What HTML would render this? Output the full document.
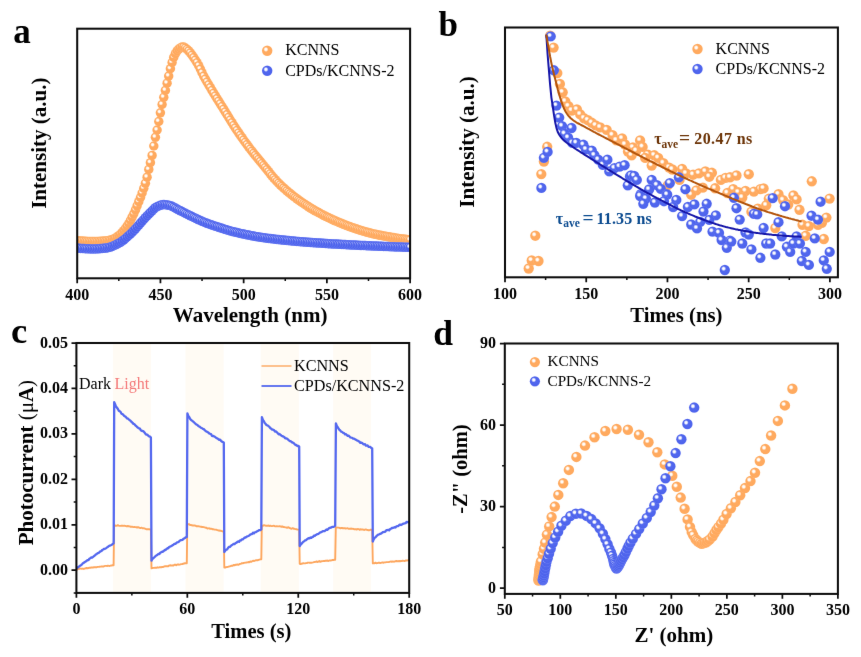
<!DOCTYPE html>
<html lang="en"><head><meta charset="utf-8"><title>Figure</title>
<style>
html,body{margin:0;padding:0;background:#fff;}
body{width:861px;height:657px;overflow:hidden;}
svg{display:block;font-family:"Liberation Serif",serif;}
.o{fill:url(#go)}.b{fill:url(#gb)}.h{fill:url(#gh)}
</style></head><body>
<svg width="861" height="657" viewBox="0 0 861 657">
<defs>
<radialGradient id="go" cx="0.5" cy="0.5" r="0.5">
<stop offset="0" stop-color="#FFAB61"/><stop offset="0.85" stop-color="#FFA95E"/><stop offset="1" stop-color="#FFB572"/>
</radialGradient>
<radialGradient id="gb" cx="0.5" cy="0.5" r="0.5">
<stop offset="0" stop-color="#546AEF"/><stop offset="0.85" stop-color="#4D63EC"/><stop offset="1" stop-color="#6B7DF2"/>
</radialGradient>
<radialGradient id="gh" cx="0.5" cy="0.5" r="0.5">
<stop offset="0" stop-color="#fff" stop-opacity="1"/><stop offset="0.4" stop-color="#fff" stop-opacity="0.95"/><stop offset="1" stop-color="#fff" stop-opacity="0"/>
</radialGradient>
<filter id="bl" filterUnits="userSpaceOnUse" x="0" y="0" width="861" height="657" color-interpolation-filters="sRGB"><feConvolveMatrix order="3" kernelMatrix="0.0028 0.0470 0.0028 0.0470 0.8008 0.0470 0.0028 0.0470 0.0028" edgeMode="duplicate" preserveAlpha="true"/></filter>
</defs>
<rect width="861" height="657" fill="#fff"/>
<g filter="url(#bl)">
<rect x="-5" y="-5" width="871" height="667" fill="#fff"/>
<clipPath id="ca"><rect x="77.2" y="28.7" width="332.90000000000003" height="249.60000000000002"/></clipPath><g clip-path="url(#ca)">
<g>
<circle class="o" cx="77.2" cy="240.7" r="4.77"/><circle class="h" cx="76.1" cy="239.4" r="2.39"/><circle class="o" cx="78.9" cy="240.9" r="4.77"/><circle class="h" cx="77.7" cy="239.6" r="2.39"/><circle class="o" cx="80.5" cy="241.0" r="4.77"/><circle class="h" cx="79.4" cy="239.7" r="2.39"/><circle class="o" cx="82.2" cy="241.1" r="4.77"/><circle class="h" cx="81.0" cy="239.8" r="2.39"/><circle class="o" cx="83.9" cy="241.2" r="4.77"/><circle class="h" cx="82.7" cy="239.9" r="2.39"/><circle class="o" cx="85.5" cy="241.3" r="4.77"/><circle class="h" cx="84.4" cy="240.0" r="2.39"/><circle class="o" cx="87.2" cy="241.4" r="4.77"/><circle class="h" cx="86.0" cy="240.1" r="2.39"/><circle class="o" cx="88.9" cy="241.4" r="4.77"/><circle class="h" cx="87.7" cy="240.1" r="2.39"/><circle class="o" cx="90.5" cy="241.5" r="4.77"/><circle class="h" cx="89.4" cy="240.2" r="2.39"/><circle class="o" cx="92.2" cy="241.5" r="4.77"/><circle class="h" cx="91.0" cy="240.2" r="2.39"/><circle class="o" cx="93.8" cy="241.5" r="4.77"/><circle class="h" cx="92.7" cy="240.2" r="2.39"/><circle class="o" cx="95.5" cy="241.5" r="4.77"/><circle class="h" cx="94.4" cy="240.2" r="2.39"/><circle class="o" cx="97.2" cy="241.5" r="4.77"/><circle class="h" cx="96.0" cy="240.2" r="2.39"/><circle class="o" cx="98.8" cy="241.4" r="4.77"/><circle class="h" cx="97.7" cy="240.1" r="2.39"/><circle class="o" cx="100.5" cy="241.3" r="4.77"/><circle class="h" cx="99.4" cy="240.0" r="2.39"/><circle class="o" cx="102.2" cy="241.2" r="4.77"/><circle class="h" cx="101.0" cy="239.9" r="2.39"/><circle class="o" cx="103.8" cy="241.1" r="4.77"/><circle class="h" cx="102.7" cy="239.8" r="2.39"/><circle class="o" cx="105.5" cy="241.0" r="4.77"/><circle class="h" cx="104.4" cy="239.7" r="2.39"/><circle class="o" cx="107.2" cy="240.8" r="4.77"/><circle class="h" cx="106.0" cy="239.5" r="2.39"/><circle class="o" cx="108.8" cy="240.5" r="4.77"/><circle class="h" cx="107.7" cy="239.2" r="2.39"/><circle class="o" cx="110.5" cy="240.1" r="4.77"/><circle class="h" cx="109.3" cy="238.8" r="2.39"/><circle class="o" cx="112.2" cy="239.6" r="4.77"/><circle class="h" cx="111.0" cy="238.3" r="2.39"/><circle class="o" cx="113.8" cy="239.0" r="4.77"/><circle class="h" cx="112.7" cy="237.7" r="2.39"/><circle class="o" cx="115.5" cy="238.1" r="4.77"/><circle class="h" cx="114.3" cy="236.8" r="2.39"/><circle class="o" cx="117.1" cy="237.0" r="4.77"/><circle class="h" cx="116.0" cy="235.7" r="2.39"/><circle class="o" cx="118.8" cy="235.7" r="4.77"/><circle class="h" cx="117.7" cy="234.5" r="2.39"/><circle class="o" cx="120.5" cy="234.3" r="4.77"/><circle class="h" cx="119.3" cy="233.0" r="2.39"/><circle class="o" cx="122.1" cy="232.6" r="4.77"/><circle class="h" cx="121.0" cy="231.4" r="2.39"/><circle class="o" cx="123.8" cy="230.7" r="4.77"/><circle class="h" cx="122.7" cy="229.4" r="2.39"/><circle class="o" cx="125.5" cy="228.6" r="4.77"/><circle class="h" cx="124.3" cy="227.3" r="2.39"/><circle class="o" cx="127.1" cy="226.2" r="4.77"/><circle class="h" cx="126.0" cy="224.9" r="2.39"/><circle class="o" cx="128.8" cy="223.5" r="4.77"/><circle class="h" cx="127.7" cy="222.2" r="2.39"/><circle class="o" cx="130.5" cy="220.4" r="4.77"/><circle class="h" cx="129.3" cy="219.2" r="2.39"/><circle class="o" cx="132.1" cy="217.2" r="4.77"/><circle class="h" cx="131.0" cy="215.9" r="2.39"/><circle class="o" cx="133.8" cy="213.8" r="4.77"/><circle class="h" cx="132.6" cy="212.5" r="2.39"/><circle class="o" cx="135.5" cy="209.9" r="4.77"/><circle class="h" cx="134.3" cy="208.6" r="2.39"/><circle class="o" cx="137.1" cy="205.8" r="4.77"/><circle class="h" cx="136.0" cy="204.5" r="2.39"/><circle class="o" cx="138.8" cy="201.7" r="4.77"/><circle class="h" cx="137.6" cy="200.4" r="2.39"/><circle class="o" cx="140.5" cy="197.5" r="4.77"/><circle class="h" cx="139.3" cy="196.2" r="2.39"/><circle class="o" cx="142.1" cy="193.0" r="4.77"/><circle class="h" cx="141.0" cy="191.7" r="2.39"/><circle class="o" cx="143.8" cy="188.3" r="4.77"/><circle class="h" cx="142.6" cy="187.0" r="2.39"/><circle class="o" cx="145.4" cy="183.3" r="4.77"/><circle class="h" cx="144.3" cy="182.0" r="2.39"/><circle class="o" cx="147.1" cy="177.2" r="4.77"/><circle class="h" cx="146.0" cy="175.9" r="2.39"/><circle class="o" cx="148.8" cy="169.4" r="4.77"/><circle class="h" cx="147.6" cy="168.2" r="2.39"/><circle class="o" cx="150.4" cy="162.7" r="4.77"/><circle class="h" cx="149.3" cy="161.4" r="2.39"/><circle class="o" cx="152.1" cy="155.4" r="4.77"/><circle class="h" cx="151.0" cy="154.1" r="2.39"/><circle class="o" cx="153.8" cy="146.0" r="4.77"/><circle class="h" cx="152.6" cy="144.7" r="2.39"/><circle class="o" cx="155.4" cy="137.3" r="4.77"/><circle class="h" cx="154.3" cy="136.0" r="2.39"/><circle class="o" cx="157.1" cy="130.0" r="4.77"/><circle class="h" cx="156.0" cy="128.8" r="2.39"/><circle class="o" cx="158.8" cy="121.5" r="4.77"/><circle class="h" cx="157.6" cy="120.2" r="2.39"/><circle class="o" cx="160.4" cy="112.8" r="4.77"/><circle class="h" cx="159.3" cy="111.5" r="2.39"/><circle class="o" cx="162.1" cy="104.5" r="4.77"/><circle class="h" cx="160.9" cy="103.2" r="2.39"/><circle class="o" cx="163.8" cy="97.3" r="4.77"/><circle class="h" cx="162.6" cy="96.0" r="2.39"/><circle class="o" cx="165.4" cy="90.4" r="4.77"/><circle class="h" cx="164.3" cy="89.1" r="2.39"/><circle class="o" cx="167.1" cy="83.2" r="4.77"/><circle class="h" cx="165.9" cy="81.9" r="2.39"/><circle class="o" cx="168.7" cy="76.1" r="4.77"/><circle class="h" cx="167.6" cy="74.8" r="2.39"/><circle class="o" cx="170.4" cy="68.7" r="4.77"/><circle class="h" cx="169.3" cy="67.5" r="2.39"/><circle class="o" cx="172.1" cy="62.5" r="4.77"/><circle class="h" cx="170.9" cy="61.2" r="2.39"/><circle class="o" cx="173.7" cy="57.4" r="4.77"/><circle class="h" cx="172.6" cy="56.1" r="2.39"/><circle class="o" cx="175.4" cy="53.7" r="4.77"/><circle class="h" cx="174.3" cy="52.4" r="2.39"/><circle class="o" cx="177.1" cy="50.9" r="4.77"/><circle class="h" cx="175.9" cy="49.6" r="2.39"/><circle class="o" cx="178.7" cy="49.2" r="4.77"/><circle class="h" cx="177.6" cy="47.9" r="2.39"/><circle class="o" cx="180.4" cy="47.9" r="4.77"/><circle class="h" cx="179.3" cy="46.6" r="2.39"/><circle class="o" cx="182.1" cy="47.1" r="4.77"/><circle class="h" cx="180.9" cy="45.8" r="2.39"/><circle class="o" cx="183.7" cy="47.1" r="4.77"/><circle class="h" cx="182.6" cy="45.8" r="2.39"/><circle class="o" cx="185.4" cy="48.0" r="4.77"/><circle class="h" cx="184.2" cy="46.7" r="2.39"/><circle class="o" cx="187.1" cy="49.4" r="4.77"/><circle class="h" cx="185.9" cy="48.1" r="2.39"/><circle class="o" cx="188.7" cy="50.9" r="4.77"/><circle class="h" cx="187.6" cy="49.6" r="2.39"/><circle class="o" cx="190.4" cy="52.9" r="4.77"/><circle class="h" cx="189.2" cy="51.6" r="2.39"/><circle class="o" cx="192.1" cy="55.2" r="4.77"/><circle class="h" cx="190.9" cy="53.9" r="2.39"/><circle class="o" cx="193.7" cy="57.6" r="4.77"/><circle class="h" cx="192.6" cy="56.3" r="2.39"/><circle class="o" cx="195.4" cy="60.0" r="4.77"/><circle class="h" cx="194.2" cy="58.8" r="2.39"/><circle class="o" cx="197.0" cy="62.7" r="4.77"/><circle class="h" cx="195.9" cy="61.4" r="2.39"/><circle class="o" cx="198.7" cy="65.7" r="4.77"/><circle class="h" cx="197.6" cy="64.4" r="2.39"/><circle class="o" cx="200.4" cy="69.1" r="4.77"/><circle class="h" cx="199.2" cy="67.8" r="2.39"/><circle class="o" cx="202.0" cy="72.7" r="4.77"/><circle class="h" cx="200.9" cy="71.4" r="2.39"/><circle class="o" cx="203.7" cy="76.1" r="4.77"/><circle class="h" cx="202.6" cy="74.8" r="2.39"/><circle class="o" cx="205.4" cy="79.1" r="4.77"/><circle class="h" cx="204.2" cy="77.8" r="2.39"/><circle class="o" cx="207.0" cy="82.0" r="4.77"/><circle class="h" cx="205.9" cy="80.7" r="2.39"/><circle class="o" cx="208.7" cy="84.8" r="4.77"/><circle class="h" cx="207.6" cy="83.5" r="2.39"/><circle class="o" cx="210.4" cy="87.6" r="4.77"/><circle class="h" cx="209.2" cy="86.3" r="2.39"/><circle class="o" cx="212.0" cy="90.4" r="4.77"/><circle class="h" cx="210.9" cy="89.1" r="2.39"/><circle class="o" cx="213.7" cy="93.2" r="4.77"/><circle class="h" cx="212.5" cy="91.9" r="2.39"/><circle class="o" cx="215.4" cy="95.9" r="4.77"/><circle class="h" cx="214.2" cy="94.6" r="2.39"/><circle class="o" cx="217.0" cy="98.6" r="4.77"/><circle class="h" cx="215.9" cy="97.3" r="2.39"/><circle class="o" cx="218.7" cy="101.2" r="4.77"/><circle class="h" cx="217.5" cy="99.9" r="2.39"/><circle class="o" cx="220.3" cy="103.8" r="4.77"/><circle class="h" cx="219.2" cy="102.5" r="2.39"/><circle class="o" cx="222.0" cy="106.5" r="4.77"/><circle class="h" cx="220.9" cy="105.2" r="2.39"/><circle class="o" cx="223.7" cy="109.2" r="4.77"/><circle class="h" cx="222.5" cy="107.9" r="2.39"/><circle class="o" cx="225.3" cy="111.9" r="4.77"/><circle class="h" cx="224.2" cy="110.6" r="2.39"/><circle class="o" cx="227.0" cy="114.6" r="4.77"/><circle class="h" cx="225.9" cy="113.3" r="2.39"/><circle class="o" cx="228.7" cy="117.3" r="4.77"/><circle class="h" cx="227.5" cy="116.0" r="2.39"/><circle class="o" cx="230.3" cy="120.0" r="4.77"/><circle class="h" cx="229.2" cy="118.7" r="2.39"/><circle class="o" cx="232.0" cy="122.7" r="4.77"/><circle class="h" cx="230.9" cy="121.4" r="2.39"/><circle class="o" cx="233.7" cy="125.4" r="4.77"/><circle class="h" cx="232.5" cy="124.1" r="2.39"/><circle class="o" cx="235.3" cy="127.9" r="4.77"/><circle class="h" cx="234.2" cy="126.6" r="2.39"/><circle class="o" cx="237.0" cy="130.4" r="4.77"/><circle class="h" cx="235.8" cy="129.1" r="2.39"/><circle class="o" cx="238.7" cy="132.9" r="4.77"/><circle class="h" cx="237.5" cy="131.6" r="2.39"/><circle class="o" cx="240.3" cy="135.3" r="4.77"/><circle class="h" cx="239.2" cy="134.0" r="2.39"/><circle class="o" cx="242.0" cy="137.7" r="4.77"/><circle class="h" cx="240.8" cy="136.4" r="2.39"/><circle class="o" cx="243.6" cy="140.0" r="4.77"/><circle class="h" cx="242.5" cy="138.7" r="2.39"/><circle class="o" cx="245.3" cy="142.3" r="4.77"/><circle class="h" cx="244.2" cy="141.0" r="2.39"/><circle class="o" cx="247.0" cy="144.6" r="4.77"/><circle class="h" cx="245.8" cy="143.3" r="2.39"/><circle class="o" cx="248.6" cy="146.8" r="4.77"/><circle class="h" cx="247.5" cy="145.5" r="2.39"/><circle class="o" cx="250.3" cy="149.0" r="4.77"/><circle class="h" cx="249.2" cy="147.7" r="2.39"/><circle class="o" cx="252.0" cy="151.2" r="4.77"/><circle class="h" cx="250.8" cy="149.9" r="2.39"/><circle class="o" cx="253.6" cy="153.3" r="4.77"/><circle class="h" cx="252.5" cy="152.0" r="2.39"/><circle class="o" cx="255.3" cy="155.4" r="4.77"/><circle class="h" cx="254.2" cy="154.1" r="2.39"/><circle class="o" cx="257.0" cy="157.4" r="4.77"/><circle class="h" cx="255.8" cy="156.1" r="2.39"/><circle class="o" cx="258.6" cy="159.4" r="4.77"/><circle class="h" cx="257.5" cy="158.1" r="2.39"/><circle class="o" cx="260.3" cy="161.4" r="4.77"/><circle class="h" cx="259.2" cy="160.2" r="2.39"/><circle class="o" cx="262.0" cy="163.5" r="4.77"/><circle class="h" cx="260.8" cy="162.2" r="2.39"/><circle class="o" cx="263.6" cy="165.5" r="4.77"/><circle class="h" cx="262.5" cy="164.2" r="2.39"/><circle class="o" cx="265.3" cy="167.6" r="4.77"/><circle class="h" cx="264.1" cy="166.3" r="2.39"/><circle class="o" cx="267.0" cy="169.6" r="4.77"/><circle class="h" cx="265.8" cy="168.3" r="2.39"/><circle class="o" cx="268.6" cy="171.7" r="4.77"/><circle class="h" cx="267.5" cy="170.4" r="2.39"/><circle class="o" cx="270.3" cy="173.8" r="4.77"/><circle class="h" cx="269.1" cy="172.5" r="2.39"/><circle class="o" cx="271.9" cy="175.8" r="4.77"/><circle class="h" cx="270.8" cy="174.5" r="2.39"/><circle class="o" cx="273.6" cy="177.8" r="4.77"/><circle class="h" cx="272.5" cy="176.5" r="2.39"/><circle class="o" cx="275.3" cy="179.7" r="4.77"/><circle class="h" cx="274.1" cy="178.4" r="2.39"/><circle class="o" cx="276.9" cy="181.5" r="4.77"/><circle class="h" cx="275.8" cy="180.2" r="2.39"/><circle class="o" cx="278.6" cy="183.2" r="4.77"/><circle class="h" cx="277.5" cy="181.9" r="2.39"/><circle class="o" cx="280.3" cy="184.8" r="4.77"/><circle class="h" cx="279.1" cy="183.5" r="2.39"/><circle class="o" cx="281.9" cy="186.4" r="4.77"/><circle class="h" cx="280.8" cy="185.1" r="2.39"/><circle class="o" cx="283.6" cy="187.9" r="4.77"/><circle class="h" cx="282.5" cy="186.7" r="2.39"/><circle class="o" cx="285.3" cy="189.4" r="4.77"/><circle class="h" cx="284.1" cy="188.1" r="2.39"/><circle class="o" cx="286.9" cy="190.9" r="4.77"/><circle class="h" cx="285.8" cy="189.6" r="2.39"/><circle class="o" cx="288.6" cy="192.3" r="4.77"/><circle class="h" cx="287.4" cy="191.0" r="2.39"/><circle class="o" cx="290.3" cy="193.6" r="4.77"/><circle class="h" cx="289.1" cy="192.4" r="2.39"/><circle class="o" cx="291.9" cy="195.0" r="4.77"/><circle class="h" cx="290.8" cy="193.7" r="2.39"/><circle class="o" cx="293.6" cy="196.3" r="4.77"/><circle class="h" cx="292.4" cy="195.0" r="2.39"/><circle class="o" cx="295.2" cy="197.5" r="4.77"/><circle class="h" cx="294.1" cy="196.3" r="2.39"/><circle class="o" cx="296.9" cy="198.8" r="4.77"/><circle class="h" cx="295.8" cy="197.5" r="2.39"/><circle class="o" cx="298.6" cy="200.0" r="4.77"/><circle class="h" cx="297.4" cy="198.7" r="2.39"/><circle class="o" cx="300.2" cy="201.2" r="4.77"/><circle class="h" cx="299.1" cy="199.9" r="2.39"/><circle class="o" cx="301.9" cy="202.4" r="4.77"/><circle class="h" cx="300.8" cy="201.1" r="2.39"/><circle class="o" cx="303.6" cy="203.5" r="4.77"/><circle class="h" cx="302.4" cy="202.2" r="2.39"/><circle class="o" cx="305.2" cy="204.6" r="4.77"/><circle class="h" cx="304.1" cy="203.3" r="2.39"/><circle class="o" cx="306.9" cy="205.7" r="4.77"/><circle class="h" cx="305.8" cy="204.4" r="2.39"/><circle class="o" cx="308.6" cy="206.8" r="4.77"/><circle class="h" cx="307.4" cy="205.5" r="2.39"/><circle class="o" cx="310.2" cy="207.8" r="4.77"/><circle class="h" cx="309.1" cy="206.5" r="2.39"/><circle class="o" cx="311.9" cy="208.8" r="4.77"/><circle class="h" cx="310.7" cy="207.5" r="2.39"/><circle class="o" cx="313.6" cy="209.8" r="4.77"/><circle class="h" cx="312.4" cy="208.5" r="2.39"/><circle class="o" cx="315.2" cy="210.8" r="4.77"/><circle class="h" cx="314.1" cy="209.5" r="2.39"/><circle class="o" cx="316.9" cy="211.7" r="4.77"/><circle class="h" cx="315.7" cy="210.4" r="2.39"/><circle class="o" cx="318.6" cy="212.6" r="4.77"/><circle class="h" cx="317.4" cy="211.3" r="2.39"/><circle class="o" cx="320.2" cy="213.5" r="4.77"/><circle class="h" cx="319.1" cy="212.2" r="2.39"/><circle class="o" cx="321.9" cy="214.4" r="4.77"/><circle class="h" cx="320.7" cy="213.1" r="2.39"/><circle class="o" cx="323.5" cy="215.3" r="4.77"/><circle class="h" cx="322.4" cy="214.0" r="2.39"/><circle class="o" cx="325.2" cy="216.1" r="4.77"/><circle class="h" cx="324.1" cy="214.8" r="2.39"/><circle class="o" cx="326.9" cy="216.9" r="4.77"/><circle class="h" cx="325.7" cy="215.7" r="2.39"/><circle class="o" cx="328.5" cy="217.7" r="4.77"/><circle class="h" cx="327.4" cy="216.5" r="2.39"/><circle class="o" cx="330.2" cy="218.5" r="4.77"/><circle class="h" cx="329.1" cy="217.2" r="2.39"/><circle class="o" cx="331.9" cy="219.3" r="4.77"/><circle class="h" cx="330.7" cy="218.0" r="2.39"/><circle class="o" cx="333.5" cy="220.1" r="4.77"/><circle class="h" cx="332.4" cy="218.8" r="2.39"/><circle class="o" cx="335.2" cy="220.8" r="4.77"/><circle class="h" cx="334.1" cy="219.5" r="2.39"/><circle class="o" cx="336.9" cy="221.5" r="4.77"/><circle class="h" cx="335.7" cy="220.2" r="2.39"/><circle class="o" cx="338.5" cy="222.2" r="4.77"/><circle class="h" cx="337.4" cy="221.0" r="2.39"/><circle class="o" cx="340.2" cy="222.9" r="4.77"/><circle class="h" cx="339.0" cy="221.7" r="2.39"/><circle class="o" cx="341.9" cy="223.6" r="4.77"/><circle class="h" cx="340.7" cy="222.3" r="2.39"/><circle class="o" cx="343.5" cy="224.3" r="4.77"/><circle class="h" cx="342.4" cy="223.0" r="2.39"/><circle class="o" cx="345.2" cy="225.0" r="4.77"/><circle class="h" cx="344.0" cy="223.7" r="2.39"/><circle class="o" cx="346.8" cy="225.6" r="4.77"/><circle class="h" cx="345.7" cy="224.3" r="2.39"/><circle class="o" cx="348.5" cy="226.2" r="4.77"/><circle class="h" cx="347.4" cy="224.9" r="2.39"/><circle class="o" cx="350.2" cy="226.8" r="4.77"/><circle class="h" cx="349.0" cy="225.6" r="2.39"/><circle class="o" cx="351.8" cy="227.4" r="4.77"/><circle class="h" cx="350.7" cy="226.1" r="2.39"/><circle class="o" cx="353.5" cy="228.0" r="4.77"/><circle class="h" cx="352.4" cy="226.7" r="2.39"/><circle class="o" cx="355.2" cy="228.6" r="4.77"/><circle class="h" cx="354.0" cy="227.3" r="2.39"/><circle class="o" cx="356.8" cy="229.1" r="4.77"/><circle class="h" cx="355.7" cy="227.8" r="2.39"/><circle class="o" cx="358.5" cy="229.7" r="4.77"/><circle class="h" cx="357.4" cy="228.4" r="2.39"/><circle class="o" cx="360.2" cy="230.2" r="4.77"/><circle class="h" cx="359.0" cy="228.9" r="2.39"/><circle class="o" cx="361.8" cy="230.7" r="4.77"/><circle class="h" cx="360.7" cy="229.4" r="2.39"/><circle class="o" cx="363.5" cy="231.2" r="4.77"/><circle class="h" cx="362.3" cy="229.9" r="2.39"/><circle class="o" cx="365.2" cy="231.7" r="4.77"/><circle class="h" cx="364.0" cy="230.4" r="2.39"/><circle class="o" cx="366.8" cy="232.2" r="4.77"/><circle class="h" cx="365.7" cy="230.9" r="2.39"/><circle class="o" cx="368.5" cy="232.6" r="4.77"/><circle class="h" cx="367.3" cy="231.4" r="2.39"/><circle class="o" cx="370.2" cy="233.1" r="4.77"/><circle class="h" cx="369.0" cy="231.8" r="2.39"/><circle class="o" cx="371.8" cy="233.5" r="4.77"/><circle class="h" cx="370.7" cy="232.2" r="2.39"/><circle class="o" cx="373.5" cy="233.9" r="4.77"/><circle class="h" cx="372.3" cy="232.6" r="2.39"/><circle class="o" cx="375.1" cy="234.2" r="4.77"/><circle class="h" cx="374.0" cy="233.0" r="2.39"/><circle class="o" cx="376.8" cy="234.6" r="4.77"/><circle class="h" cx="375.7" cy="233.3" r="2.39"/><circle class="o" cx="378.5" cy="235.0" r="4.77"/><circle class="h" cx="377.3" cy="233.7" r="2.39"/><circle class="o" cx="380.1" cy="235.3" r="4.77"/><circle class="h" cx="379.0" cy="234.0" r="2.39"/><circle class="o" cx="381.8" cy="235.6" r="4.77"/><circle class="h" cx="380.7" cy="234.3" r="2.39"/><circle class="o" cx="383.5" cy="235.9" r="4.77"/><circle class="h" cx="382.3" cy="234.6" r="2.39"/><circle class="o" cx="385.1" cy="236.2" r="4.77"/><circle class="h" cx="384.0" cy="235.0" r="2.39"/><circle class="o" cx="386.8" cy="236.5" r="4.77"/><circle class="h" cx="385.7" cy="235.2" r="2.39"/><circle class="o" cx="388.5" cy="236.8" r="4.77"/><circle class="h" cx="387.3" cy="235.5" r="2.39"/><circle class="o" cx="390.1" cy="237.1" r="4.77"/><circle class="h" cx="389.0" cy="235.8" r="2.39"/><circle class="o" cx="391.8" cy="237.4" r="4.77"/><circle class="h" cx="390.6" cy="236.1" r="2.39"/><circle class="o" cx="393.5" cy="237.6" r="4.77"/><circle class="h" cx="392.3" cy="236.4" r="2.39"/><circle class="o" cx="395.1" cy="237.9" r="4.77"/><circle class="h" cx="394.0" cy="236.6" r="2.39"/><circle class="o" cx="396.8" cy="238.2" r="4.77"/><circle class="h" cx="395.6" cy="236.9" r="2.39"/><circle class="o" cx="398.4" cy="238.4" r="4.77"/><circle class="h" cx="397.3" cy="237.1" r="2.39"/><circle class="o" cx="400.1" cy="238.7" r="4.77"/><circle class="h" cx="399.0" cy="237.4" r="2.39"/><circle class="o" cx="401.8" cy="238.9" r="4.77"/><circle class="h" cx="400.6" cy="237.6" r="2.39"/><circle class="o" cx="403.4" cy="239.1" r="4.77"/><circle class="h" cx="402.3" cy="237.8" r="2.39"/><circle class="o" cx="405.1" cy="239.3" r="4.77"/><circle class="h" cx="404.0" cy="238.1" r="2.39"/><circle class="o" cx="406.8" cy="239.6" r="4.77"/><circle class="h" cx="405.6" cy="238.3" r="2.39"/><circle class="o" cx="408.4" cy="239.8" r="4.77"/><circle class="h" cx="407.3" cy="238.5" r="2.39"/><circle class="o" cx="410.1" cy="240.0" r="4.77"/><circle class="h" cx="409.0" cy="238.7" r="2.39"/>
</g>
<g>
<circle class="b" cx="77.2" cy="248.0" r="4.77"/><circle class="h" cx="76.1" cy="246.7" r="2.39"/><circle class="b" cx="78.9" cy="248.2" r="4.77"/><circle class="h" cx="77.7" cy="246.9" r="2.39"/><circle class="b" cx="80.5" cy="248.4" r="4.77"/><circle class="h" cx="79.4" cy="247.1" r="2.39"/><circle class="b" cx="82.2" cy="248.5" r="4.77"/><circle class="h" cx="81.0" cy="247.2" r="2.39"/><circle class="b" cx="83.9" cy="248.6" r="4.77"/><circle class="h" cx="82.7" cy="247.3" r="2.39"/><circle class="b" cx="85.5" cy="248.7" r="4.77"/><circle class="h" cx="84.4" cy="247.4" r="2.39"/><circle class="b" cx="87.2" cy="248.8" r="4.77"/><circle class="h" cx="86.0" cy="247.5" r="2.39"/><circle class="b" cx="88.9" cy="248.8" r="4.77"/><circle class="h" cx="87.7" cy="247.5" r="2.39"/><circle class="b" cx="90.5" cy="248.9" r="4.77"/><circle class="h" cx="89.4" cy="247.6" r="2.39"/><circle class="b" cx="92.2" cy="248.9" r="4.77"/><circle class="h" cx="91.0" cy="247.6" r="2.39"/><circle class="b" cx="93.8" cy="248.9" r="4.77"/><circle class="h" cx="92.7" cy="247.6" r="2.39"/><circle class="b" cx="95.5" cy="248.9" r="4.77"/><circle class="h" cx="94.4" cy="247.6" r="2.39"/><circle class="b" cx="97.2" cy="248.8" r="4.77"/><circle class="h" cx="96.0" cy="247.6" r="2.39"/><circle class="b" cx="98.8" cy="248.8" r="4.77"/><circle class="h" cx="97.7" cy="247.5" r="2.39"/><circle class="b" cx="100.5" cy="248.6" r="4.77"/><circle class="h" cx="99.4" cy="247.3" r="2.39"/><circle class="b" cx="102.2" cy="248.5" r="4.77"/><circle class="h" cx="101.0" cy="247.2" r="2.39"/><circle class="b" cx="103.8" cy="248.3" r="4.77"/><circle class="h" cx="102.7" cy="247.0" r="2.39"/><circle class="b" cx="105.5" cy="248.1" r="4.77"/><circle class="h" cx="104.4" cy="246.8" r="2.39"/><circle class="b" cx="107.2" cy="247.9" r="4.77"/><circle class="h" cx="106.0" cy="246.6" r="2.39"/><circle class="b" cx="108.8" cy="247.5" r="4.77"/><circle class="h" cx="107.7" cy="246.3" r="2.39"/><circle class="b" cx="110.5" cy="247.1" r="4.77"/><circle class="h" cx="109.3" cy="245.8" r="2.39"/><circle class="b" cx="112.2" cy="246.4" r="4.77"/><circle class="h" cx="111.0" cy="245.1" r="2.39"/><circle class="b" cx="113.8" cy="245.7" r="4.77"/><circle class="h" cx="112.7" cy="244.4" r="2.39"/><circle class="b" cx="115.5" cy="244.9" r="4.77"/><circle class="h" cx="114.3" cy="243.6" r="2.39"/><circle class="b" cx="117.1" cy="244.1" r="4.77"/><circle class="h" cx="116.0" cy="242.8" r="2.39"/><circle class="b" cx="118.8" cy="243.2" r="4.77"/><circle class="h" cx="117.7" cy="242.0" r="2.39"/><circle class="b" cx="120.5" cy="242.3" r="4.77"/><circle class="h" cx="119.3" cy="241.0" r="2.39"/><circle class="b" cx="122.1" cy="241.1" r="4.77"/><circle class="h" cx="121.0" cy="239.9" r="2.39"/><circle class="b" cx="123.8" cy="239.9" r="4.77"/><circle class="h" cx="122.7" cy="238.6" r="2.39"/><circle class="b" cx="125.5" cy="238.5" r="4.77"/><circle class="h" cx="124.3" cy="237.2" r="2.39"/><circle class="b" cx="127.1" cy="237.0" r="4.77"/><circle class="h" cx="126.0" cy="235.8" r="2.39"/><circle class="b" cx="128.8" cy="235.5" r="4.77"/><circle class="h" cx="127.7" cy="234.2" r="2.39"/><circle class="b" cx="130.5" cy="234.0" r="4.77"/><circle class="h" cx="129.3" cy="232.7" r="2.39"/><circle class="b" cx="132.1" cy="232.4" r="4.77"/><circle class="h" cx="131.0" cy="231.1" r="2.39"/><circle class="b" cx="133.8" cy="230.7" r="4.77"/><circle class="h" cx="132.6" cy="229.4" r="2.39"/><circle class="b" cx="135.5" cy="228.9" r="4.77"/><circle class="h" cx="134.3" cy="227.6" r="2.39"/><circle class="b" cx="137.1" cy="227.0" r="4.77"/><circle class="h" cx="136.0" cy="225.7" r="2.39"/><circle class="b" cx="138.8" cy="225.1" r="4.77"/><circle class="h" cx="137.6" cy="223.8" r="2.39"/><circle class="b" cx="140.5" cy="223.1" r="4.77"/><circle class="h" cx="139.3" cy="221.9" r="2.39"/><circle class="b" cx="142.1" cy="221.3" r="4.77"/><circle class="h" cx="141.0" cy="220.0" r="2.39"/><circle class="b" cx="143.8" cy="219.5" r="4.77"/><circle class="h" cx="142.6" cy="218.2" r="2.39"/><circle class="b" cx="145.4" cy="217.7" r="4.77"/><circle class="h" cx="144.3" cy="216.4" r="2.39"/><circle class="b" cx="147.1" cy="215.9" r="4.77"/><circle class="h" cx="146.0" cy="214.6" r="2.39"/><circle class="b" cx="148.8" cy="214.2" r="4.77"/><circle class="h" cx="147.6" cy="212.9" r="2.39"/><circle class="b" cx="150.4" cy="212.6" r="4.77"/><circle class="h" cx="149.3" cy="211.3" r="2.39"/><circle class="b" cx="152.1" cy="210.8" r="4.77"/><circle class="h" cx="151.0" cy="209.6" r="2.39"/><circle class="b" cx="153.8" cy="209.1" r="4.77"/><circle class="h" cx="152.6" cy="207.9" r="2.39"/><circle class="b" cx="155.4" cy="207.7" r="4.77"/><circle class="h" cx="154.3" cy="206.4" r="2.39"/><circle class="b" cx="157.1" cy="206.7" r="4.77"/><circle class="h" cx="156.0" cy="205.4" r="2.39"/><circle class="b" cx="158.8" cy="205.9" r="4.77"/><circle class="h" cx="157.6" cy="204.6" r="2.39"/><circle class="b" cx="160.4" cy="205.3" r="4.77"/><circle class="h" cx="159.3" cy="204.0" r="2.39"/><circle class="b" cx="162.1" cy="204.8" r="4.77"/><circle class="h" cx="160.9" cy="203.5" r="2.39"/><circle class="b" cx="163.8" cy="204.6" r="4.77"/><circle class="h" cx="162.6" cy="203.3" r="2.39"/><circle class="b" cx="165.4" cy="204.7" r="4.77"/><circle class="h" cx="164.3" cy="203.4" r="2.39"/><circle class="b" cx="167.1" cy="204.9" r="4.77"/><circle class="h" cx="165.9" cy="203.7" r="2.39"/><circle class="b" cx="168.7" cy="205.3" r="4.77"/><circle class="h" cx="167.6" cy="204.0" r="2.39"/><circle class="b" cx="170.4" cy="205.7" r="4.77"/><circle class="h" cx="169.3" cy="204.4" r="2.39"/><circle class="b" cx="172.1" cy="206.3" r="4.77"/><circle class="h" cx="170.9" cy="205.1" r="2.39"/><circle class="b" cx="173.7" cy="207.2" r="4.77"/><circle class="h" cx="172.6" cy="205.9" r="2.39"/><circle class="b" cx="175.4" cy="208.1" r="4.77"/><circle class="h" cx="174.3" cy="206.8" r="2.39"/><circle class="b" cx="177.1" cy="209.1" r="4.77"/><circle class="h" cx="175.9" cy="207.8" r="2.39"/><circle class="b" cx="178.7" cy="209.9" r="4.77"/><circle class="h" cx="177.6" cy="208.6" r="2.39"/><circle class="b" cx="180.4" cy="210.8" r="4.77"/><circle class="h" cx="179.3" cy="209.5" r="2.39"/><circle class="b" cx="182.1" cy="211.6" r="4.77"/><circle class="h" cx="180.9" cy="210.3" r="2.39"/><circle class="b" cx="183.7" cy="212.5" r="4.77"/><circle class="h" cx="182.6" cy="211.2" r="2.39"/><circle class="b" cx="185.4" cy="213.3" r="4.77"/><circle class="h" cx="184.2" cy="212.0" r="2.39"/><circle class="b" cx="187.1" cy="214.2" r="4.77"/><circle class="h" cx="185.9" cy="212.9" r="2.39"/><circle class="b" cx="188.7" cy="215.0" r="4.77"/><circle class="h" cx="187.6" cy="213.7" r="2.39"/><circle class="b" cx="190.4" cy="215.8" r="4.77"/><circle class="h" cx="189.2" cy="214.5" r="2.39"/><circle class="b" cx="192.1" cy="216.6" r="4.77"/><circle class="h" cx="190.9" cy="215.3" r="2.39"/><circle class="b" cx="193.7" cy="217.4" r="4.77"/><circle class="h" cx="192.6" cy="216.1" r="2.39"/><circle class="b" cx="195.4" cy="218.2" r="4.77"/><circle class="h" cx="194.2" cy="216.9" r="2.39"/><circle class="b" cx="197.0" cy="219.0" r="4.77"/><circle class="h" cx="195.9" cy="217.7" r="2.39"/><circle class="b" cx="198.7" cy="219.8" r="4.77"/><circle class="h" cx="197.6" cy="218.5" r="2.39"/><circle class="b" cx="200.4" cy="220.5" r="4.77"/><circle class="h" cx="199.2" cy="219.3" r="2.39"/><circle class="b" cx="202.0" cy="221.3" r="4.77"/><circle class="h" cx="200.9" cy="220.0" r="2.39"/><circle class="b" cx="203.7" cy="222.0" r="4.77"/><circle class="h" cx="202.6" cy="220.7" r="2.39"/><circle class="b" cx="205.4" cy="222.7" r="4.77"/><circle class="h" cx="204.2" cy="221.4" r="2.39"/><circle class="b" cx="207.0" cy="223.3" r="4.77"/><circle class="h" cx="205.9" cy="222.0" r="2.39"/><circle class="b" cx="208.7" cy="223.9" r="4.77"/><circle class="h" cx="207.6" cy="222.6" r="2.39"/><circle class="b" cx="210.4" cy="224.5" r="4.77"/><circle class="h" cx="209.2" cy="223.2" r="2.39"/><circle class="b" cx="212.0" cy="225.1" r="4.77"/><circle class="h" cx="210.9" cy="223.8" r="2.39"/><circle class="b" cx="213.7" cy="225.7" r="4.77"/><circle class="h" cx="212.5" cy="224.4" r="2.39"/><circle class="b" cx="215.4" cy="226.2" r="4.77"/><circle class="h" cx="214.2" cy="224.9" r="2.39"/><circle class="b" cx="217.0" cy="226.7" r="4.77"/><circle class="h" cx="215.9" cy="225.5" r="2.39"/><circle class="b" cx="218.7" cy="227.3" r="4.77"/><circle class="h" cx="217.5" cy="226.0" r="2.39"/><circle class="b" cx="220.3" cy="227.8" r="4.77"/><circle class="h" cx="219.2" cy="226.5" r="2.39"/><circle class="b" cx="222.0" cy="228.3" r="4.77"/><circle class="h" cx="220.9" cy="227.1" r="2.39"/><circle class="b" cx="223.7" cy="228.9" r="4.77"/><circle class="h" cx="222.5" cy="227.6" r="2.39"/><circle class="b" cx="225.3" cy="229.4" r="4.77"/><circle class="h" cx="224.2" cy="228.1" r="2.39"/><circle class="b" cx="227.0" cy="229.9" r="4.77"/><circle class="h" cx="225.9" cy="228.6" r="2.39"/><circle class="b" cx="228.7" cy="230.4" r="4.77"/><circle class="h" cx="227.5" cy="229.1" r="2.39"/><circle class="b" cx="230.3" cy="230.9" r="4.77"/><circle class="h" cx="229.2" cy="229.6" r="2.39"/><circle class="b" cx="232.0" cy="231.4" r="4.77"/><circle class="h" cx="230.9" cy="230.1" r="2.39"/><circle class="b" cx="233.7" cy="231.8" r="4.77"/><circle class="h" cx="232.5" cy="230.5" r="2.39"/><circle class="b" cx="235.3" cy="232.2" r="4.77"/><circle class="h" cx="234.2" cy="230.9" r="2.39"/><circle class="b" cx="237.0" cy="232.6" r="4.77"/><circle class="h" cx="235.8" cy="231.3" r="2.39"/><circle class="b" cx="238.7" cy="233.0" r="4.77"/><circle class="h" cx="237.5" cy="231.7" r="2.39"/><circle class="b" cx="240.3" cy="233.4" r="4.77"/><circle class="h" cx="239.2" cy="232.1" r="2.39"/><circle class="b" cx="242.0" cy="233.7" r="4.77"/><circle class="h" cx="240.8" cy="232.5" r="2.39"/><circle class="b" cx="243.6" cy="234.1" r="4.77"/><circle class="h" cx="242.5" cy="232.8" r="2.39"/><circle class="b" cx="245.3" cy="234.4" r="4.77"/><circle class="h" cx="244.2" cy="233.2" r="2.39"/><circle class="b" cx="247.0" cy="234.8" r="4.77"/><circle class="h" cx="245.8" cy="233.5" r="2.39"/><circle class="b" cx="248.6" cy="235.1" r="4.77"/><circle class="h" cx="247.5" cy="233.8" r="2.39"/><circle class="b" cx="250.3" cy="235.4" r="4.77"/><circle class="h" cx="249.2" cy="234.1" r="2.39"/><circle class="b" cx="252.0" cy="235.8" r="4.77"/><circle class="h" cx="250.8" cy="234.5" r="2.39"/><circle class="b" cx="253.6" cy="236.1" r="4.77"/><circle class="h" cx="252.5" cy="234.8" r="2.39"/><circle class="b" cx="255.3" cy="236.4" r="4.77"/><circle class="h" cx="254.2" cy="235.1" r="2.39"/><circle class="b" cx="257.0" cy="236.7" r="4.77"/><circle class="h" cx="255.8" cy="235.4" r="2.39"/><circle class="b" cx="258.6" cy="237.0" r="4.77"/><circle class="h" cx="257.5" cy="235.7" r="2.39"/><circle class="b" cx="260.3" cy="237.2" r="4.77"/><circle class="h" cx="259.2" cy="235.9" r="2.39"/><circle class="b" cx="262.0" cy="237.5" r="4.77"/><circle class="h" cx="260.8" cy="236.2" r="2.39"/><circle class="b" cx="263.6" cy="237.7" r="4.77"/><circle class="h" cx="262.5" cy="236.4" r="2.39"/><circle class="b" cx="265.3" cy="237.9" r="4.77"/><circle class="h" cx="264.1" cy="236.6" r="2.39"/><circle class="b" cx="267.0" cy="238.2" r="4.77"/><circle class="h" cx="265.8" cy="236.9" r="2.39"/><circle class="b" cx="268.6" cy="238.4" r="4.77"/><circle class="h" cx="267.5" cy="237.1" r="2.39"/><circle class="b" cx="270.3" cy="238.6" r="4.77"/><circle class="h" cx="269.1" cy="237.3" r="2.39"/><circle class="b" cx="271.9" cy="238.8" r="4.77"/><circle class="h" cx="270.8" cy="237.5" r="2.39"/><circle class="b" cx="273.6" cy="239.0" r="4.77"/><circle class="h" cx="272.5" cy="237.7" r="2.39"/><circle class="b" cx="275.3" cy="239.2" r="4.77"/><circle class="h" cx="274.1" cy="237.9" r="2.39"/><circle class="b" cx="276.9" cy="239.4" r="4.77"/><circle class="h" cx="275.8" cy="238.1" r="2.39"/><circle class="b" cx="278.6" cy="239.6" r="4.77"/><circle class="h" cx="277.5" cy="238.3" r="2.39"/><circle class="b" cx="280.3" cy="239.8" r="4.77"/><circle class="h" cx="279.1" cy="238.5" r="2.39"/><circle class="b" cx="281.9" cy="239.9" r="4.77"/><circle class="h" cx="280.8" cy="238.6" r="2.39"/><circle class="b" cx="283.6" cy="240.1" r="4.77"/><circle class="h" cx="282.5" cy="238.8" r="2.39"/><circle class="b" cx="285.3" cy="240.3" r="4.77"/><circle class="h" cx="284.1" cy="239.0" r="2.39"/><circle class="b" cx="286.9" cy="240.4" r="4.77"/><circle class="h" cx="285.8" cy="239.2" r="2.39"/><circle class="b" cx="288.6" cy="240.6" r="4.77"/><circle class="h" cx="287.4" cy="239.3" r="2.39"/><circle class="b" cx="290.3" cy="240.8" r="4.77"/><circle class="h" cx="289.1" cy="239.5" r="2.39"/><circle class="b" cx="291.9" cy="240.9" r="4.77"/><circle class="h" cx="290.8" cy="239.6" r="2.39"/><circle class="b" cx="293.6" cy="241.1" r="4.77"/><circle class="h" cx="292.4" cy="239.8" r="2.39"/><circle class="b" cx="295.2" cy="241.2" r="4.77"/><circle class="h" cx="294.1" cy="239.9" r="2.39"/><circle class="b" cx="296.9" cy="241.4" r="4.77"/><circle class="h" cx="295.8" cy="240.1" r="2.39"/><circle class="b" cx="298.6" cy="241.5" r="4.77"/><circle class="h" cx="297.4" cy="240.2" r="2.39"/><circle class="b" cx="300.2" cy="241.7" r="4.77"/><circle class="h" cx="299.1" cy="240.4" r="2.39"/><circle class="b" cx="301.9" cy="241.8" r="4.77"/><circle class="h" cx="300.8" cy="240.5" r="2.39"/><circle class="b" cx="303.6" cy="241.9" r="4.77"/><circle class="h" cx="302.4" cy="240.6" r="2.39"/><circle class="b" cx="305.2" cy="242.1" r="4.77"/><circle class="h" cx="304.1" cy="240.8" r="2.39"/><circle class="b" cx="306.9" cy="242.2" r="4.77"/><circle class="h" cx="305.8" cy="240.9" r="2.39"/><circle class="b" cx="308.6" cy="242.3" r="4.77"/><circle class="h" cx="307.4" cy="241.0" r="2.39"/><circle class="b" cx="310.2" cy="242.4" r="4.77"/><circle class="h" cx="309.1" cy="241.1" r="2.39"/><circle class="b" cx="311.9" cy="242.6" r="4.77"/><circle class="h" cx="310.7" cy="241.3" r="2.39"/><circle class="b" cx="313.6" cy="242.7" r="4.77"/><circle class="h" cx="312.4" cy="241.4" r="2.39"/><circle class="b" cx="315.2" cy="242.8" r="4.77"/><circle class="h" cx="314.1" cy="241.5" r="2.39"/><circle class="b" cx="316.9" cy="242.9" r="4.77"/><circle class="h" cx="315.7" cy="241.6" r="2.39"/><circle class="b" cx="318.6" cy="243.0" r="4.77"/><circle class="h" cx="317.4" cy="241.7" r="2.39"/><circle class="b" cx="320.2" cy="243.1" r="4.77"/><circle class="h" cx="319.1" cy="241.8" r="2.39"/><circle class="b" cx="321.9" cy="243.2" r="4.77"/><circle class="h" cx="320.7" cy="241.9" r="2.39"/><circle class="b" cx="323.5" cy="243.3" r="4.77"/><circle class="h" cx="322.4" cy="242.1" r="2.39"/><circle class="b" cx="325.2" cy="243.4" r="4.77"/><circle class="h" cx="324.1" cy="242.2" r="2.39"/><circle class="b" cx="326.9" cy="243.6" r="4.77"/><circle class="h" cx="325.7" cy="242.3" r="2.39"/><circle class="b" cx="328.5" cy="243.7" r="4.77"/><circle class="h" cx="327.4" cy="242.4" r="2.39"/><circle class="b" cx="330.2" cy="243.8" r="4.77"/><circle class="h" cx="329.1" cy="242.5" r="2.39"/><circle class="b" cx="331.9" cy="243.9" r="4.77"/><circle class="h" cx="330.7" cy="242.6" r="2.39"/><circle class="b" cx="333.5" cy="244.0" r="4.77"/><circle class="h" cx="332.4" cy="242.7" r="2.39"/><circle class="b" cx="335.2" cy="244.1" r="4.77"/><circle class="h" cx="334.1" cy="242.8" r="2.39"/><circle class="b" cx="336.9" cy="244.1" r="4.77"/><circle class="h" cx="335.7" cy="242.9" r="2.39"/><circle class="b" cx="338.5" cy="244.2" r="4.77"/><circle class="h" cx="337.4" cy="243.0" r="2.39"/><circle class="b" cx="340.2" cy="244.3" r="4.77"/><circle class="h" cx="339.0" cy="243.1" r="2.39"/><circle class="b" cx="341.9" cy="244.4" r="4.77"/><circle class="h" cx="340.7" cy="243.1" r="2.39"/><circle class="b" cx="343.5" cy="244.5" r="4.77"/><circle class="h" cx="342.4" cy="243.2" r="2.39"/><circle class="b" cx="345.2" cy="244.6" r="4.77"/><circle class="h" cx="344.0" cy="243.3" r="2.39"/><circle class="b" cx="346.8" cy="244.7" r="4.77"/><circle class="h" cx="345.7" cy="243.4" r="2.39"/><circle class="b" cx="348.5" cy="244.8" r="4.77"/><circle class="h" cx="347.4" cy="243.5" r="2.39"/><circle class="b" cx="350.2" cy="244.9" r="4.77"/><circle class="h" cx="349.0" cy="243.6" r="2.39"/><circle class="b" cx="351.8" cy="245.0" r="4.77"/><circle class="h" cx="350.7" cy="243.7" r="2.39"/><circle class="b" cx="353.5" cy="245.1" r="4.77"/><circle class="h" cx="352.4" cy="243.8" r="2.39"/><circle class="b" cx="355.2" cy="245.1" r="4.77"/><circle class="h" cx="354.0" cy="243.8" r="2.39"/><circle class="b" cx="356.8" cy="245.2" r="4.77"/><circle class="h" cx="355.7" cy="243.9" r="2.39"/><circle class="b" cx="358.5" cy="245.3" r="4.77"/><circle class="h" cx="357.4" cy="244.0" r="2.39"/><circle class="b" cx="360.2" cy="245.4" r="4.77"/><circle class="h" cx="359.0" cy="244.1" r="2.39"/><circle class="b" cx="361.8" cy="245.5" r="4.77"/><circle class="h" cx="360.7" cy="244.2" r="2.39"/><circle class="b" cx="363.5" cy="245.5" r="4.77"/><circle class="h" cx="362.3" cy="244.2" r="2.39"/><circle class="b" cx="365.2" cy="245.6" r="4.77"/><circle class="h" cx="364.0" cy="244.3" r="2.39"/><circle class="b" cx="366.8" cy="245.7" r="4.77"/><circle class="h" cx="365.7" cy="244.4" r="2.39"/><circle class="b" cx="368.5" cy="245.8" r="4.77"/><circle class="h" cx="367.3" cy="244.5" r="2.39"/><circle class="b" cx="370.2" cy="245.8" r="4.77"/><circle class="h" cx="369.0" cy="244.6" r="2.39"/><circle class="b" cx="371.8" cy="245.9" r="4.77"/><circle class="h" cx="370.7" cy="244.6" r="2.39"/><circle class="b" cx="373.5" cy="246.0" r="4.77"/><circle class="h" cx="372.3" cy="244.7" r="2.39"/><circle class="b" cx="375.1" cy="246.1" r="4.77"/><circle class="h" cx="374.0" cy="244.8" r="2.39"/><circle class="b" cx="376.8" cy="246.1" r="4.77"/><circle class="h" cx="375.7" cy="244.8" r="2.39"/><circle class="b" cx="378.5" cy="246.2" r="4.77"/><circle class="h" cx="377.3" cy="244.9" r="2.39"/><circle class="b" cx="380.1" cy="246.3" r="4.77"/><circle class="h" cx="379.0" cy="245.0" r="2.39"/><circle class="b" cx="381.8" cy="246.3" r="4.77"/><circle class="h" cx="380.7" cy="245.1" r="2.39"/><circle class="b" cx="383.5" cy="246.4" r="4.77"/><circle class="h" cx="382.3" cy="245.1" r="2.39"/><circle class="b" cx="385.1" cy="246.5" r="4.77"/><circle class="h" cx="384.0" cy="245.2" r="2.39"/><circle class="b" cx="386.8" cy="246.5" r="4.77"/><circle class="h" cx="385.7" cy="245.3" r="2.39"/><circle class="b" cx="388.5" cy="246.6" r="4.77"/><circle class="h" cx="387.3" cy="245.3" r="2.39"/><circle class="b" cx="390.1" cy="246.7" r="4.77"/><circle class="h" cx="389.0" cy="245.4" r="2.39"/><circle class="b" cx="391.8" cy="246.7" r="4.77"/><circle class="h" cx="390.6" cy="245.5" r="2.39"/><circle class="b" cx="393.5" cy="246.8" r="4.77"/><circle class="h" cx="392.3" cy="245.5" r="2.39"/><circle class="b" cx="395.1" cy="246.9" r="4.77"/><circle class="h" cx="394.0" cy="245.6" r="2.39"/><circle class="b" cx="396.8" cy="246.9" r="4.77"/><circle class="h" cx="395.6" cy="245.6" r="2.39"/><circle class="b" cx="398.4" cy="247.0" r="4.77"/><circle class="h" cx="397.3" cy="245.7" r="2.39"/><circle class="b" cx="400.1" cy="247.0" r="4.77"/><circle class="h" cx="399.0" cy="245.8" r="2.39"/><circle class="b" cx="401.8" cy="247.1" r="4.77"/><circle class="h" cx="400.6" cy="245.8" r="2.39"/><circle class="b" cx="403.4" cy="247.2" r="4.77"/><circle class="h" cx="402.3" cy="245.9" r="2.39"/><circle class="b" cx="405.1" cy="247.2" r="4.77"/><circle class="h" cx="404.0" cy="245.9" r="2.39"/><circle class="b" cx="406.8" cy="247.3" r="4.77"/><circle class="h" cx="405.6" cy="246.0" r="2.39"/><circle class="b" cx="408.4" cy="247.3" r="4.77"/><circle class="h" cx="407.3" cy="246.0" r="2.39"/><circle class="b" cx="410.1" cy="247.4" r="4.77"/><circle class="h" cx="409.0" cy="246.1" r="2.39"/>
</g>
</g>
<rect x="77.20" y="28.70" width="332.90" height="249.60" fill="none" stroke="#0d0d0d" stroke-width="2.05"/>
<path d="M77.20 278.30v4.9M160.43 278.30v4.9M243.65 278.30v4.9M326.88 278.30v4.9M410.10 278.30v4.9" stroke="#0d0d0d" stroke-width="1.75" fill="none"/>
<path d="M118.81 278.30v2.7M202.04 278.30v2.7M285.26 278.30v2.7M368.49 278.30v2.7" stroke="#0d0d0d" stroke-width="1.5" fill="none"/>
<text x="77.20" y="299.80" font-size="16" font-weight="bold" text-anchor="middle" fill="#000">400</text>
<text x="160.43" y="299.80" font-size="16" font-weight="bold" text-anchor="middle" fill="#000">450</text>
<text x="243.65" y="299.80" font-size="16" font-weight="bold" text-anchor="middle" fill="#000">500</text>
<text x="326.88" y="299.80" font-size="16" font-weight="bold" text-anchor="middle" fill="#000">550</text>
<text x="410.10" y="299.80" font-size="16" font-weight="bold" text-anchor="middle" fill="#000">600</text>
<text x="250.10" y="322.40" font-size="21" font-weight="bold" text-anchor="middle" fill="#000">Wavelength (nm)</text>
<text transform="translate(46.30 143.20) rotate(-90)" font-size="21" font-weight="bold" text-anchor="middle">Intensity (a.u.)</text>
<text x="13.20" y="43.30" font-size="35" font-weight="bold" text-anchor="start" fill="#000">a</text>
<g>
<circle class="o" cx="267.2" cy="50.8" r="5.25"/><circle class="h" cx="265.9" cy="49.4" r="2.62"/>
</g>
<g>
<circle class="b" cx="267.2" cy="70.8" r="5.25"/><circle class="h" cx="265.9" cy="69.4" r="2.62"/>
</g>
<text x="285.20" y="55.20" font-size="16.0" text-anchor="start" fill="#000">KCNNS</text>
<text x="285.20" y="75.50" font-size="16.0" text-anchor="start" fill="#000">CPDs/KCNNS-2</text>
<g>
<circle class="o" cx="528.7" cy="268.5" r="5.19"/><circle class="h" cx="527.5" cy="267.1" r="2.60"/><circle class="o" cx="531.7" cy="260.5" r="5.19"/><circle class="h" cx="530.5" cy="259.1" r="2.60"/><circle class="o" cx="538.5" cy="261.0" r="5.19"/><circle class="h" cx="537.3" cy="259.6" r="2.60"/><circle class="o" cx="535.3" cy="235.7" r="5.19"/><circle class="h" cx="534.1" cy="234.3" r="2.60"/><circle class="o" cx="541.3" cy="174.1" r="5.19"/><circle class="h" cx="540.1" cy="172.7" r="2.60"/><circle class="o" cx="543.9" cy="161.6" r="5.19"/><circle class="h" cx="542.7" cy="160.2" r="2.60"/><circle class="o" cx="547.2" cy="146.8" r="5.19"/><circle class="h" cx="546.0" cy="145.4" r="2.60"/><circle class="o" cx="550.2" cy="35.6" r="5.19"/><circle class="h" cx="549.0" cy="34.2" r="2.60"/><circle class="o" cx="553.6" cy="47.6" r="5.19"/><circle class="h" cx="552.4" cy="46.2" r="2.60"/><circle class="o" cx="557.3" cy="73.1" r="5.19"/><circle class="h" cx="556.1" cy="71.7" r="2.60"/><circle class="o" cx="559.9" cy="83.9" r="5.19"/><circle class="h" cx="558.7" cy="82.5" r="2.60"/><circle class="o" cx="562.7" cy="92.3" r="5.19"/><circle class="h" cx="561.5" cy="90.9" r="2.60"/><circle class="o" cx="565.3" cy="101.4" r="5.19"/><circle class="h" cx="564.1" cy="100.0" r="2.60"/><circle class="o" cx="568.5" cy="106.2" r="5.19"/><circle class="h" cx="567.3" cy="104.8" r="2.60"/><circle class="o" cx="571.8" cy="110.5" r="5.19"/><circle class="h" cx="570.6" cy="109.1" r="2.60"/><circle class="o" cx="576.9" cy="109.5" r="5.19"/><circle class="h" cx="575.7" cy="108.1" r="2.60"/><circle class="o" cx="580.2" cy="114.4" r="5.19"/><circle class="h" cx="579.0" cy="113.0" r="2.60"/><circle class="o" cx="584.1" cy="118.3" r="5.19"/><circle class="h" cx="582.9" cy="116.9" r="2.60"/><circle class="o" cx="587.9" cy="120.2" r="5.19"/><circle class="h" cx="586.7" cy="118.8" r="2.60"/><circle class="o" cx="591.8" cy="122.8" r="5.19"/><circle class="h" cx="590.6" cy="121.4" r="2.60"/><circle class="o" cx="595.7" cy="125.4" r="5.19"/><circle class="h" cx="594.5" cy="124.0" r="2.60"/><circle class="o" cx="600.2" cy="127.4" r="5.19"/><circle class="h" cx="599.0" cy="126.0" r="2.60"/><circle class="o" cx="606.7" cy="129.9" r="5.19"/><circle class="h" cx="605.5" cy="128.5" r="2.60"/><circle class="o" cx="612.5" cy="135.1" r="5.19"/><circle class="h" cx="611.3" cy="133.7" r="2.60"/><circle class="o" cx="616.4" cy="140.3" r="5.19"/><circle class="h" cx="615.2" cy="138.9" r="2.60"/><circle class="o" cx="622.1" cy="138.5" r="5.19"/><circle class="h" cx="620.9" cy="137.1" r="2.60"/><circle class="o" cx="625.0" cy="144.5" r="5.19"/><circle class="h" cx="623.8" cy="143.1" r="2.60"/><circle class="o" cx="628.0" cy="151.6" r="5.19"/><circle class="h" cx="626.8" cy="150.2" r="2.60"/><circle class="o" cx="631.6" cy="155.3" r="5.19"/><circle class="h" cx="630.4" cy="153.9" r="2.60"/><circle class="o" cx="632.9" cy="147.5" r="5.19"/><circle class="h" cx="631.7" cy="146.1" r="2.60"/><circle class="o" cx="636.2" cy="150.8" r="5.19"/><circle class="h" cx="635.0" cy="149.4" r="2.60"/><circle class="o" cx="640.1" cy="140.4" r="5.19"/><circle class="h" cx="638.9" cy="139.0" r="2.60"/><circle class="o" cx="642.6" cy="146.9" r="5.19"/><circle class="h" cx="641.4" cy="145.5" r="2.60"/><circle class="o" cx="647.8" cy="154.6" r="5.19"/><circle class="h" cx="646.6" cy="153.2" r="2.60"/><circle class="o" cx="645.2" cy="157.9" r="5.19"/><circle class="h" cx="644.0" cy="156.5" r="2.60"/><circle class="o" cx="651.7" cy="165.6" r="5.19"/><circle class="h" cx="650.5" cy="164.2" r="2.60"/><circle class="o" cx="654.3" cy="155.3" r="5.19"/><circle class="h" cx="653.1" cy="153.9" r="2.60"/><circle class="o" cx="658.2" cy="157.9" r="5.19"/><circle class="h" cx="657.0" cy="156.5" r="2.60"/><circle class="o" cx="663.4" cy="163.1" r="5.19"/><circle class="h" cx="662.2" cy="161.7" r="2.60"/><circle class="o" cx="669.2" cy="167.6" r="5.19"/><circle class="h" cx="668.0" cy="166.2" r="2.60"/><circle class="o" cx="672.4" cy="169.5" r="5.19"/><circle class="h" cx="671.2" cy="168.1" r="2.60"/><circle class="o" cx="682.1" cy="168.9" r="5.19"/><circle class="h" cx="680.9" cy="167.5" r="2.60"/><circle class="o" cx="686.0" cy="173.4" r="5.19"/><circle class="h" cx="684.8" cy="172.0" r="2.60"/><circle class="o" cx="679.5" cy="179.9" r="5.19"/><circle class="h" cx="678.3" cy="178.5" r="2.60"/><circle class="o" cx="667.9" cy="185.1" r="5.19"/><circle class="h" cx="666.7" cy="183.7" r="2.60"/><circle class="o" cx="693.1" cy="174.7" r="5.19"/><circle class="h" cx="691.9" cy="173.3" r="2.60"/><circle class="o" cx="698.9" cy="173.4" r="5.19"/><circle class="h" cx="697.7" cy="172.0" r="2.60"/><circle class="o" cx="705.4" cy="171.5" r="5.19"/><circle class="h" cx="704.2" cy="170.1" r="2.60"/><circle class="o" cx="711.9" cy="172.8" r="5.19"/><circle class="h" cx="710.7" cy="171.4" r="2.60"/><circle class="o" cx="709.3" cy="176.7" r="5.19"/><circle class="h" cx="708.1" cy="175.3" r="2.60"/><circle class="o" cx="720.9" cy="179.9" r="5.19"/><circle class="h" cx="719.7" cy="178.5" r="2.60"/><circle class="o" cx="725.5" cy="177.9" r="5.19"/><circle class="h" cx="724.3" cy="176.5" r="2.60"/><circle class="o" cx="730.0" cy="177.3" r="5.19"/><circle class="h" cx="728.8" cy="175.9" r="2.60"/><circle class="o" cx="696.4" cy="190.4" r="5.19"/><circle class="h" cx="695.2" cy="189.0" r="2.60"/><circle class="o" cx="702.8" cy="187.6" r="5.19"/><circle class="h" cx="701.6" cy="186.2" r="2.60"/><circle class="o" cx="715.1" cy="188.3" r="5.19"/><circle class="h" cx="713.9" cy="186.9" r="2.60"/><circle class="o" cx="727.4" cy="193.0" r="5.19"/><circle class="h" cx="726.2" cy="191.6" r="2.60"/><circle class="o" cx="691.2" cy="194.7" r="5.19"/><circle class="h" cx="690.0" cy="193.3" r="2.60"/><circle class="o" cx="736.5" cy="175.5" r="5.19"/><circle class="h" cx="735.3" cy="174.1" r="2.60"/><circle class="o" cx="748.8" cy="174.2" r="5.19"/><circle class="h" cx="747.6" cy="172.8" r="2.60"/><circle class="o" cx="733.2" cy="189.1" r="5.19"/><circle class="h" cx="732.0" cy="187.7" r="2.60"/><circle class="o" cx="738.4" cy="192.3" r="5.19"/><circle class="h" cx="737.2" cy="190.9" r="2.60"/><circle class="o" cx="745.5" cy="191.0" r="5.19"/><circle class="h" cx="744.3" cy="189.6" r="2.60"/><circle class="o" cx="742.3" cy="197.5" r="5.19"/><circle class="h" cx="741.1" cy="196.1" r="2.60"/><circle class="o" cx="753.9" cy="191.6" r="5.19"/><circle class="h" cx="752.7" cy="190.2" r="2.60"/><circle class="o" cx="760.4" cy="189.1" r="5.19"/><circle class="h" cx="759.2" cy="187.7" r="2.60"/><circle class="o" cx="763.6" cy="188.4" r="5.19"/><circle class="h" cx="762.4" cy="187.0" r="2.60"/><circle class="o" cx="768.8" cy="198.8" r="5.19"/><circle class="h" cx="767.6" cy="197.4" r="2.60"/><circle class="o" cx="766.2" cy="205.3" r="5.19"/><circle class="h" cx="765.0" cy="203.9" r="2.60"/><circle class="o" cx="778.5" cy="194.2" r="5.19"/><circle class="h" cx="777.3" cy="192.8" r="2.60"/><circle class="o" cx="783.1" cy="200.1" r="5.19"/><circle class="h" cx="781.9" cy="198.7" r="2.60"/><circle class="o" cx="788.2" cy="204.5" r="5.19"/><circle class="h" cx="787.0" cy="203.1" r="2.60"/><circle class="o" cx="793.4" cy="195.5" r="5.19"/><circle class="h" cx="792.2" cy="194.1" r="2.60"/><circle class="o" cx="796.6" cy="199.4" r="5.19"/><circle class="h" cx="795.4" cy="198.0" r="2.60"/><circle class="o" cx="799.5" cy="209.8" r="5.19"/><circle class="h" cx="798.3" cy="208.4" r="2.60"/><circle class="o" cx="811.8" cy="181.3" r="5.19"/><circle class="h" cx="810.6" cy="179.9" r="2.60"/><circle class="o" cx="829.6" cy="198.6" r="5.19"/><circle class="h" cx="828.4" cy="197.2" r="2.60"/><circle class="o" cx="751.4" cy="211.8" r="5.19"/><circle class="h" cx="750.2" cy="210.4" r="2.60"/><circle class="o" cx="757.8" cy="208.6" r="5.19"/><circle class="h" cx="756.6" cy="207.2" r="2.60"/><circle class="o" cx="775.3" cy="228.0" r="5.19"/><circle class="h" cx="774.1" cy="226.6" r="2.60"/><circle class="o" cx="802.5" cy="224.8" r="5.19"/><circle class="h" cx="801.3" cy="223.4" r="2.60"/><circle class="o" cx="808.9" cy="226.1" r="5.19"/><circle class="h" cx="807.7" cy="224.7" r="2.60"/><circle class="o" cx="805.7" cy="235.8" r="5.19"/><circle class="h" cx="804.5" cy="234.4" r="2.60"/><circle class="o" cx="818.0" cy="224.8" r="5.19"/><circle class="h" cx="816.8" cy="223.4" r="2.60"/><circle class="o" cx="821.9" cy="222.8" r="5.19"/><circle class="h" cx="820.7" cy="221.4" r="2.60"/><circle class="o" cx="826.4" cy="217.6" r="5.19"/><circle class="h" cx="825.2" cy="216.2" r="2.60"/><circle class="o" cx="823.8" cy="239.0" r="5.19"/><circle class="h" cx="822.6" cy="237.6" r="2.60"/>
</g>
<g>
<circle class="b" cx="541.4" cy="187.9" r="5.19"/><circle class="h" cx="540.2" cy="186.5" r="2.60"/><circle class="b" cx="543.9" cy="157.8" r="5.19"/><circle class="h" cx="542.7" cy="156.4" r="2.60"/><circle class="b" cx="547.6" cy="151.9" r="5.19"/><circle class="h" cx="546.4" cy="150.5" r="2.60"/><circle class="b" cx="550.7" cy="36.4" r="5.19"/><circle class="h" cx="549.5" cy="35.0" r="2.60"/><circle class="b" cx="553.9" cy="70.3" r="5.19"/><circle class="h" cx="552.7" cy="68.9" r="2.60"/><circle class="b" cx="556.5" cy="105.6" r="5.19"/><circle class="h" cx="555.3" cy="104.2" r="2.60"/><circle class="b" cx="559.2" cy="117.6" r="5.19"/><circle class="h" cx="558.0" cy="116.2" r="2.60"/><circle class="b" cx="562.1" cy="126.1" r="5.19"/><circle class="h" cx="560.9" cy="124.7" r="2.60"/><circle class="b" cx="571.5" cy="128.0" r="5.19"/><circle class="h" cx="570.3" cy="126.6" r="2.60"/><circle class="b" cx="564.6" cy="133.8" r="5.19"/><circle class="h" cx="563.4" cy="132.4" r="2.60"/><circle class="b" cx="568.1" cy="137.7" r="5.19"/><circle class="h" cx="566.9" cy="136.3" r="2.60"/><circle class="b" cx="572.4" cy="142.9" r="5.19"/><circle class="h" cx="571.2" cy="141.5" r="2.60"/><circle class="b" cx="576.3" cy="142.9" r="5.19"/><circle class="h" cx="575.1" cy="141.5" r="2.60"/><circle class="b" cx="583.4" cy="144.8" r="5.19"/><circle class="h" cx="582.2" cy="143.4" r="2.60"/><circle class="b" cx="586.0" cy="149.4" r="5.19"/><circle class="h" cx="584.8" cy="148.0" r="2.60"/><circle class="b" cx="591.8" cy="150.6" r="5.19"/><circle class="h" cx="590.6" cy="149.2" r="2.60"/><circle class="b" cx="594.4" cy="155.2" r="5.19"/><circle class="h" cx="593.2" cy="153.8" r="2.60"/><circle class="b" cx="598.3" cy="159.7" r="5.19"/><circle class="h" cx="597.1" cy="158.3" r="2.60"/><circle class="b" cx="602.8" cy="164.9" r="5.19"/><circle class="h" cx="601.6" cy="163.5" r="2.60"/><circle class="b" cx="607.4" cy="159.7" r="5.19"/><circle class="h" cx="606.2" cy="158.3" r="2.60"/><circle class="b" cx="609.3" cy="171.4" r="5.19"/><circle class="h" cx="608.1" cy="170.0" r="2.60"/><circle class="b" cx="614.5" cy="168.1" r="5.19"/><circle class="h" cx="613.3" cy="166.7" r="2.60"/><circle class="b" cx="619.6" cy="166.6" r="5.19"/><circle class="h" cx="618.4" cy="165.2" r="2.60"/><circle class="b" cx="624.6" cy="165.2" r="5.19"/><circle class="h" cx="623.4" cy="163.8" r="2.60"/><circle class="b" cx="630.0" cy="176.5" r="5.19"/><circle class="h" cx="628.8" cy="175.1" r="2.60"/><circle class="b" cx="631.0" cy="175.4" r="5.19"/><circle class="h" cx="629.8" cy="174.0" r="2.60"/><circle class="b" cx="634.2" cy="176.0" r="5.19"/><circle class="h" cx="633.0" cy="174.6" r="2.60"/><circle class="b" cx="636.8" cy="179.9" r="5.19"/><circle class="h" cx="635.6" cy="178.5" r="2.60"/><circle class="b" cx="627.8" cy="185.3" r="5.19"/><circle class="h" cx="626.6" cy="183.9" r="2.60"/><circle class="b" cx="651.7" cy="179.9" r="5.19"/><circle class="h" cx="650.5" cy="178.5" r="2.60"/><circle class="b" cx="656.9" cy="185.1" r="5.19"/><circle class="h" cx="655.7" cy="183.7" r="2.60"/><circle class="b" cx="649.1" cy="189.5" r="5.19"/><circle class="h" cx="647.9" cy="188.1" r="2.60"/><circle class="b" cx="660.8" cy="188.9" r="5.19"/><circle class="h" cx="659.6" cy="187.5" r="2.60"/><circle class="b" cx="669.8" cy="183.1" r="5.19"/><circle class="h" cx="668.6" cy="181.7" r="2.60"/><circle class="b" cx="678.9" cy="177.3" r="5.19"/><circle class="h" cx="677.7" cy="175.9" r="2.60"/><circle class="b" cx="685.4" cy="189.2" r="5.19"/><circle class="h" cx="684.2" cy="187.8" r="2.60"/><circle class="b" cx="640.7" cy="194.1" r="5.19"/><circle class="h" cx="639.5" cy="192.7" r="2.60"/><circle class="b" cx="666.6" cy="194.1" r="5.19"/><circle class="h" cx="665.4" cy="192.7" r="2.60"/><circle class="b" cx="640.1" cy="196.0" r="5.19"/><circle class="h" cx="638.9" cy="194.6" r="2.60"/><circle class="b" cx="645.9" cy="198.6" r="5.19"/><circle class="h" cx="644.7" cy="197.2" r="2.60"/><circle class="b" cx="643.3" cy="203.8" r="5.19"/><circle class="h" cx="642.1" cy="202.4" r="2.60"/><circle class="b" cx="654.9" cy="202.5" r="5.19"/><circle class="h" cx="653.7" cy="201.1" r="2.60"/><circle class="b" cx="667.2" cy="194.7" r="5.19"/><circle class="h" cx="666.0" cy="193.3" r="2.60"/><circle class="b" cx="664.0" cy="201.2" r="5.19"/><circle class="h" cx="662.8" cy="199.8" r="2.60"/><circle class="b" cx="676.3" cy="199.9" r="5.19"/><circle class="h" cx="675.1" cy="198.5" r="2.60"/><circle class="b" cx="673.1" cy="207.0" r="5.19"/><circle class="h" cx="671.9" cy="205.6" r="2.60"/><circle class="b" cx="682.1" cy="216.1" r="5.19"/><circle class="h" cx="680.9" cy="214.7" r="2.60"/><circle class="b" cx="687.9" cy="207.0" r="5.19"/><circle class="h" cx="686.7" cy="205.6" r="2.60"/><circle class="b" cx="694.4" cy="204.4" r="5.19"/><circle class="h" cx="693.2" cy="203.0" r="2.60"/><circle class="b" cx="706.7" cy="203.8" r="5.19"/><circle class="h" cx="705.5" cy="202.4" r="2.60"/><circle class="b" cx="703.5" cy="211.5" r="5.19"/><circle class="h" cx="702.3" cy="210.1" r="2.60"/><circle class="b" cx="715.8" cy="215.4" r="5.19"/><circle class="h" cx="714.6" cy="214.0" r="2.60"/><circle class="b" cx="709.3" cy="219.9" r="5.19"/><circle class="h" cx="708.1" cy="218.5" r="2.60"/><circle class="b" cx="700.2" cy="221.9" r="5.19"/><circle class="h" cx="699.0" cy="220.5" r="2.60"/><circle class="b" cx="691.2" cy="224.5" r="5.19"/><circle class="h" cx="690.0" cy="223.1" r="2.60"/><circle class="b" cx="697.0" cy="228.4" r="5.19"/><circle class="h" cx="695.8" cy="227.0" r="2.60"/><circle class="b" cx="712.5" cy="231.6" r="5.19"/><circle class="h" cx="711.3" cy="230.2" r="2.60"/><circle class="b" cx="719.0" cy="232.9" r="5.19"/><circle class="h" cx="717.8" cy="231.5" r="2.60"/><circle class="b" cx="721.6" cy="240.0" r="5.19"/><circle class="h" cx="720.4" cy="238.6" r="2.60"/><circle class="b" cx="730.0" cy="240.6" r="5.19"/><circle class="h" cx="728.8" cy="239.2" r="2.60"/><circle class="b" cx="726.8" cy="247.8" r="5.19"/><circle class="h" cx="725.6" cy="246.4" r="2.60"/><circle class="b" cx="724.8" cy="270.0" r="5.19"/><circle class="h" cx="723.6" cy="268.6" r="2.60"/><circle class="b" cx="733.9" cy="197.8" r="5.19"/><circle class="h" cx="732.7" cy="196.4" r="2.60"/><circle class="b" cx="736.5" cy="208.2" r="5.19"/><circle class="h" cx="735.3" cy="206.8" r="2.60"/><circle class="b" cx="772.7" cy="198.1" r="5.19"/><circle class="h" cx="771.5" cy="196.7" r="2.60"/><circle class="b" cx="785.0" cy="206.2" r="5.19"/><circle class="h" cx="783.8" cy="204.8" r="2.60"/><circle class="b" cx="820.6" cy="201.7" r="5.19"/><circle class="h" cx="819.4" cy="200.3" r="2.60"/><circle class="b" cx="739.7" cy="219.6" r="5.19"/><circle class="h" cx="738.5" cy="218.2" r="2.60"/><circle class="b" cx="753.9" cy="213.8" r="5.19"/><circle class="h" cx="752.7" cy="212.4" r="2.60"/><circle class="b" cx="757.2" cy="214.4" r="5.19"/><circle class="h" cx="756.0" cy="213.0" r="2.60"/><circle class="b" cx="778.5" cy="222.2" r="5.19"/><circle class="h" cx="777.3" cy="220.8" r="2.60"/><circle class="b" cx="763.6" cy="228.0" r="5.19"/><circle class="h" cx="762.4" cy="226.6" r="2.60"/><circle class="b" cx="745.5" cy="232.5" r="5.19"/><circle class="h" cx="744.3" cy="231.1" r="2.60"/><circle class="b" cx="748.8" cy="234.5" r="5.19"/><circle class="h" cx="747.6" cy="233.1" r="2.60"/><circle class="b" cx="731.3" cy="241.6" r="5.19"/><circle class="h" cx="730.1" cy="240.2" r="2.60"/><circle class="b" cx="742.3" cy="243.5" r="5.19"/><circle class="h" cx="741.1" cy="242.1" r="2.60"/><circle class="b" cx="751.4" cy="249.4" r="5.19"/><circle class="h" cx="750.2" cy="248.0" r="2.60"/><circle class="b" cx="760.4" cy="257.8" r="5.19"/><circle class="h" cx="759.2" cy="256.4" r="2.60"/><circle class="b" cx="766.2" cy="243.5" r="5.19"/><circle class="h" cx="765.0" cy="242.1" r="2.60"/><circle class="b" cx="770.1" cy="243.5" r="5.19"/><circle class="h" cx="768.9" cy="242.1" r="2.60"/><circle class="b" cx="775.3" cy="254.5" r="5.19"/><circle class="h" cx="774.1" cy="253.1" r="2.60"/><circle class="b" cx="781.8" cy="236.4" r="5.19"/><circle class="h" cx="780.6" cy="235.0" r="2.60"/><circle class="b" cx="786.9" cy="246.8" r="5.19"/><circle class="h" cx="785.7" cy="245.4" r="2.60"/><circle class="b" cx="790.2" cy="251.9" r="5.19"/><circle class="h" cx="789.0" cy="250.5" r="2.60"/><circle class="b" cx="793.4" cy="243.5" r="5.19"/><circle class="h" cx="792.2" cy="242.1" r="2.60"/><circle class="b" cx="796.6" cy="236.4" r="5.19"/><circle class="h" cx="795.4" cy="235.0" r="2.60"/><circle class="b" cx="799.9" cy="243.5" r="5.19"/><circle class="h" cx="798.7" cy="242.1" r="2.60"/><circle class="b" cx="805.7" cy="251.9" r="5.19"/><circle class="h" cx="804.5" cy="250.5" r="2.60"/><circle class="b" cx="801.8" cy="261.0" r="5.19"/><circle class="h" cx="800.6" cy="259.6" r="2.60"/><circle class="b" cx="808.9" cy="264.9" r="5.19"/><circle class="h" cx="807.7" cy="263.5" r="2.60"/><circle class="b" cx="811.5" cy="215.7" r="5.19"/><circle class="h" cx="810.3" cy="214.3" r="2.60"/><circle class="b" cx="818.0" cy="219.6" r="5.19"/><circle class="h" cx="816.8" cy="218.2" r="2.60"/><circle class="b" cx="814.8" cy="238.4" r="5.19"/><circle class="h" cx="813.6" cy="237.0" r="2.60"/><circle class="b" cx="829.7" cy="251.9" r="5.19"/><circle class="h" cx="828.5" cy="250.5" r="2.60"/><circle class="b" cx="823.8" cy="260.4" r="5.19"/><circle class="h" cx="822.6" cy="259.0" r="2.60"/><circle class="b" cx="826.8" cy="268.8" r="5.19"/><circle class="h" cx="825.6" cy="267.4" r="2.60"/>
</g>
<path d="M546.3 34.7 L547.6 54.5 L548.9 70.2 L550.1 84.7 L551.4 97.6 L552.7 106.0 L554.0 115.2 L555.3 122.8 L556.6 128.4 L557.8 132.0 L559.1 134.5 L560.4 136.5 L561.7 138.1 L563.0 139.5 L564.3 140.7 L565.5 141.8 L566.8 142.8 L568.1 143.7 L569.4 144.6 L570.7 145.4 L572.0 146.3 L573.2 147.2 L574.5 148.1 L575.8 149.0 L577.1 149.8 L578.4 150.6 L579.7 151.5 L580.9 152.3 L582.2 153.1 L583.5 153.9 L584.8 154.8 L586.1 155.6 L587.4 156.4 L588.6 157.2 L589.9 158.0 L591.2 158.9 L592.5 159.7 L593.8 160.5 L595.1 161.3 L596.3 162.1 L597.6 162.9 L598.9 163.7 L600.2 164.5 L601.5 165.3 L602.7 166.1 L604.0 166.9 L605.3 167.7 L606.6 168.5 L607.9 169.3 L609.2 170.1 L610.4 170.9 L611.7 171.7 L613.0 172.5 L614.3 173.3 L615.6 174.1 L616.9 174.9 L618.1 175.6 L619.4 176.4 L620.7 177.2 L622.0 178.0 L623.3 178.8 L624.6 179.5 L625.8 180.3 L627.1 181.1 L628.4 181.8 L629.7 182.6 L631.0 183.4 L632.3 184.1 L633.5 184.9 L634.8 185.6 L636.1 186.4 L637.4 187.1 L638.7 187.9 L640.0 188.6 L641.2 189.4 L642.5 190.1 L643.8 190.8 L645.1 191.5 L646.4 192.3 L647.7 193.0 L648.9 193.7 L650.2 194.4 L651.5 195.1 L652.8 195.8 L654.1 196.5 L655.3 197.2 L656.6 197.9 L657.9 198.5 L659.2 199.2 L660.5 199.9 L661.8 200.6 L663.0 201.2 L664.3 201.9 L665.6 202.6 L666.9 203.2 L668.2 203.9 L669.5 204.6 L670.7 205.2 L672.0 205.9 L673.3 206.6 L674.6 207.2 L675.9 207.8 L677.2 208.5 L678.4 209.1 L679.7 209.7 L681.0 210.3 L682.3 210.9 L683.6 211.5 L684.9 212.1 L686.1 212.6 L687.4 213.2 L688.7 213.8 L690.0 214.3 L691.3 214.9 L692.6 215.4 L693.8 215.9 L695.1 216.5 L696.4 217.0 L697.7 217.5 L699.0 218.0 L700.2 218.5 L701.5 219.0 L702.8 219.5 L704.1 220.0 L705.4 220.5 L706.7 220.9 L707.9 221.4 L709.2 221.8 L710.5 222.3 L711.8 222.7 L713.1 223.1 L714.4 223.5 L715.6 224.0 L716.9 224.4 L718.2 224.8 L719.5 225.2 L720.8 225.5 L722.1 225.9 L723.3 226.3 L724.6 226.6 L725.9 227.0 L727.2 227.3 L728.5 227.6 L729.8 227.9 L731.0 228.2 L732.3 228.5 L733.6 228.8 L734.9 229.1 L736.2 229.4 L737.5 229.6 L738.7 229.9 L740.0 230.1 L741.3 230.4 L742.6 230.6 L743.9 230.9 L745.2 231.1 L746.4 231.3 L747.7 231.5 L749.0 231.8 L750.3 232.0 L751.6 232.2 L752.8 232.4 L754.1 232.6 L755.4 232.7 L756.7 232.9 L758.0 233.1 L759.3 233.2 L760.5 233.4 L761.8 233.6 L763.1 233.7 L764.4 233.9 L765.7 234.0 L767.0 234.2 L768.2 234.3 L769.5 234.5 L770.8 234.6 L772.1 234.8 L773.4 234.9 L774.7 235.0 L775.9 235.1 L777.2 235.2 L778.5 235.3 L779.8 235.4 L781.1 235.5 L782.4 235.6 L783.6 235.7 L784.9 235.8 L786.2 235.9 L787.5 236.0 L788.8 236.1 L790.1 236.2 L791.3 236.2 L792.6 236.3 L793.9 236.4 L795.2 236.4 L796.5 236.5 L797.8 236.6 L799.0 236.6 L800.3 236.7 L801.6 236.7" stroke="#1616A8" stroke-width="2" fill="none"/>
<path d="M546.3 34.7 L547.6 42.4 L548.9 49.6 L550.1 56.5 L551.4 63.1 L552.7 69.1 L554.0 74.5 L555.3 79.6 L556.6 84.6 L557.8 89.5 L559.1 94.2 L560.4 98.5 L561.7 102.7 L563.0 106.2 L564.3 109.1 L565.5 111.6 L566.8 113.5 L568.1 115.3 L569.4 116.8 L570.7 118.2 L572.0 119.3 L573.2 120.3 L574.5 121.2 L575.8 122.0 L577.1 122.8 L578.4 123.5 L579.7 124.2 L580.9 124.8 L582.2 125.5 L583.5 126.1 L584.8 126.8 L586.1 127.6 L587.4 128.3 L588.6 129.0 L589.9 129.7 L591.2 130.4 L592.5 131.1 L593.8 131.8 L595.1 132.4 L596.3 133.1 L597.6 133.8 L598.9 134.5 L600.2 135.2 L601.5 135.8 L602.7 136.5 L604.0 137.2 L605.3 137.8 L606.6 138.5 L607.9 139.2 L609.2 139.9 L610.4 140.5 L611.7 141.2 L613.0 141.9 L614.3 142.5 L615.6 143.2 L616.9 143.9 L618.1 144.5 L619.4 145.2 L620.7 145.9 L622.0 146.5 L623.3 147.2 L624.6 147.9 L625.8 148.5 L627.1 149.2 L628.4 149.9 L629.7 150.5 L631.0 151.2 L632.3 151.9 L633.5 152.5 L634.8 153.2 L636.1 153.9 L637.4 154.5 L638.7 155.2 L640.0 155.9 L641.2 156.5 L642.5 157.2 L643.8 157.8 L645.1 158.5 L646.4 159.1 L647.7 159.8 L648.9 160.4 L650.2 161.1 L651.5 161.7 L652.8 162.4 L654.1 163.0 L655.3 163.7 L656.6 164.3 L657.9 165.0 L659.2 165.6 L660.5 166.2 L661.8 166.9 L663.0 167.5 L664.3 168.2 L665.6 168.8 L666.9 169.4 L668.2 170.0 L669.5 170.7 L670.7 171.3 L672.0 171.9 L673.3 172.5 L674.6 173.1 L675.9 173.8 L677.2 174.4 L678.4 175.0 L679.7 175.6 L681.0 176.2 L682.3 176.8 L683.6 177.4 L684.9 178.0 L686.1 178.6 L687.4 179.2 L688.7 179.8 L690.0 180.4 L691.3 180.9 L692.6 181.5 L693.8 182.1 L695.1 182.7 L696.4 183.3 L697.7 183.8 L699.0 184.4 L700.2 185.0 L701.5 185.5 L702.8 186.1 L704.1 186.7 L705.4 187.2 L706.7 187.8 L707.9 188.3 L709.2 188.9 L710.5 189.4 L711.8 190.0 L713.1 190.5 L714.4 191.1 L715.6 191.6 L716.9 192.1 L718.2 192.7 L719.5 193.2 L720.8 193.8 L722.1 194.3 L723.3 194.8 L724.6 195.4 L725.9 195.9 L727.2 196.4 L728.5 197.0 L729.8 197.5 L731.0 198.0 L732.3 198.6 L733.6 199.1 L734.9 199.6 L736.2 200.1 L737.5 200.7 L738.7 201.2 L740.0 201.7 L741.3 202.3 L742.6 202.8 L743.9 203.3 L745.2 203.8 L746.4 204.3 L747.7 204.8 L749.0 205.3 L750.3 205.8 L751.6 206.3 L752.8 206.8 L754.1 207.3 L755.4 207.7 L756.7 208.2 L758.0 208.6 L759.3 209.1 L760.5 209.5 L761.8 210.0 L763.1 210.4 L764.4 210.8 L765.7 211.2 L767.0 211.7 L768.2 212.1 L769.5 212.5 L770.8 212.9 L772.1 213.3 L773.4 213.7 L774.7 214.1 L775.9 214.5 L777.2 214.8 L778.5 215.2 L779.8 215.6 L781.1 216.0 L782.4 216.4 L783.6 216.7 L784.9 217.1 L786.2 217.5 L787.5 217.8 L788.8 218.2 L790.1 218.5 L791.3 218.9 L792.6 219.2 L793.9 219.5 L795.2 219.9 L796.5 220.2 L797.8 220.5 L799.0 220.9 L800.3 221.2 L801.6 221.5" stroke="#B3540B" stroke-width="2" fill="none"/>
<rect x="505.00" y="27.50" width="332.90" height="249.80" fill="none" stroke="#0d0d0d" stroke-width="2.05"/>
<path d="M505.00 277.30v4.9M586.23 277.30v4.9M667.45 277.30v4.9M748.67 277.30v4.9M829.90 277.30v4.9" stroke="#0d0d0d" stroke-width="1.75" fill="none"/>
<path d="M545.61 277.30v2.7M626.84 277.30v2.7M708.06 277.30v2.7M789.29 277.30v2.7" stroke="#0d0d0d" stroke-width="1.5" fill="none"/>
<text x="505.00" y="299.20" font-size="16" font-weight="bold" text-anchor="middle" fill="#000">100</text>
<text x="586.23" y="299.20" font-size="16" font-weight="bold" text-anchor="middle" fill="#000">150</text>
<text x="667.45" y="299.20" font-size="16" font-weight="bold" text-anchor="middle" fill="#000">200</text>
<text x="748.67" y="299.20" font-size="16" font-weight="bold" text-anchor="middle" fill="#000">250</text>
<text x="829.90" y="299.20" font-size="16" font-weight="bold" text-anchor="middle" fill="#000">300</text>
<text x="676.30" y="322.30" font-size="20.7" font-weight="bold" text-anchor="middle" fill="#000">Times (ns)</text>
<text transform="translate(474.00 142.00) rotate(-90)" font-size="21" font-weight="bold" text-anchor="middle">Intensity (a.u.)</text>
<text x="438.50" y="35.50" font-size="35" font-weight="bold" text-anchor="start" fill="#000">b</text>
<g>
<circle class="o" cx="697.5" cy="49.0" r="5.25"/><circle class="h" cx="696.2" cy="47.6" r="2.62"/>
</g>
<g>
<circle class="b" cx="697.5" cy="69.0" r="5.25"/><circle class="h" cx="696.2" cy="67.6" r="2.62"/>
</g>
<text x="715.60" y="53.60" font-size="16.0" text-anchor="start" fill="#000">KCNNS</text>
<text x="715.60" y="73.60" font-size="16.0" text-anchor="start" fill="#000">CPDs/KCNNS-2</text>
<text x="654.2" y="143.6" font-size="16" font-weight="bold" fill="#6B3306">τ<tspan font-size="11.5" dy="4">ave</tspan><tspan dy="-3.4" x="678.9" font-size="19.5">=</tspan><tspan x="694.3" dy="-0.6" letter-spacing="0.4">20.47 ns</tspan></text>
<text x="555.8" y="223.6" font-size="16" font-weight="bold" fill="#0A4A8F">τ<tspan font-size="11.5" dy="3.6">ave</tspan><tspan dy="-3.0" x="582.6" font-size="19.5">=</tspan><tspan x="596.6" dy="-0.6" letter-spacing="0.12">11.35 ns</tspan></text>
<rect x="113.0" y="343.0" width="38.1" height="249.9" fill="#FFFBF4"/>
<rect x="185.5" y="343.0" width="38.1" height="249.9" fill="#FFFBF4"/>
<rect x="260.7" y="343.0" width="38.1" height="249.9" fill="#FFFBF4"/>
<rect x="333.2" y="343.0" width="37.7" height="249.9" fill="#FFFBF4"/>
<path d="M76.4 569.3 L77.3 569.5 L78.3 568.7 L79.2 568.8 L80.1 568.5 L81.0 568.6 L82.0 568.9 L82.9 568.5 L83.8 569.0 L84.8 568.5 L85.7 568.3 L86.6 568.0 L87.5 568.2 L88.5 568.0 L89.4 567.8 L90.3 567.7 L91.3 567.5 L92.2 567.5 L93.1 567.5 L94.1 567.2 L95.0 567.2 L95.9 567.3 L96.8 567.2 L97.8 566.9 L98.7 566.9 L99.6 566.7 L100.6 566.6 L101.5 566.5 L102.4 566.5 L103.3 566.6 L104.3 566.1 L105.2 565.9 L106.1 565.9 L107.1 566.0 L108.0 565.7 L108.9 565.9 L109.8 566.0 L110.8 565.5 L111.7 565.6 L112.6 565.1 L113.6 565.2 L114.1 525.2 L115.0 525.5 L116.0 525.9 L116.9 525.6 L117.8 525.1 L118.7 525.6 L119.6 525.9 L120.6 525.9 L121.5 525.6 L122.4 525.7 L123.3 525.9 L124.2 525.7 L125.2 525.9 L126.1 526.2 L127.0 526.2 L127.9 526.0 L128.8 526.3 L129.8 526.4 L130.7 526.9 L131.6 526.8 L132.5 526.8 L133.4 527.1 L134.4 526.9 L135.3 527.1 L136.2 527.2 L137.1 527.6 L138.0 527.1 L139.0 527.5 L139.9 528.0 L140.8 528.0 L141.7 527.6 L142.6 528.4 L143.6 528.3 L144.5 528.4 L145.4 528.8 L146.3 529.2 L147.2 529.1 L148.2 529.2 L149.1 529.2 L150.0 529.4 L150.9 529.8 L151.5 568.4 L152.3 568.2 L153.2 567.9 L154.1 567.9 L155.0 567.8 L155.9 567.7 L156.8 567.7 L157.6 567.3 L158.5 567.6 L159.4 567.3 L160.3 567.1 L161.2 567.3 L162.1 566.9 L162.9 567.1 L163.8 566.7 L164.7 566.3 L165.6 566.2 L166.5 566.2 L167.4 566.1 L168.2 566.2 L169.1 565.4 L170.0 565.5 L170.9 565.3 L171.8 565.6 L172.7 565.3 L173.5 565.5 L174.4 564.8 L175.3 564.6 L176.2 565.2 L177.1 564.6 L178.0 564.3 L178.8 564.7 L179.7 564.6 L180.6 564.3 L181.5 564.1 L182.4 564.1 L183.2 563.7 L184.1 563.5 L185.0 563.3 L185.9 563.1 L186.8 563.2 L187.3 524.3 L188.2 524.1 L189.2 524.3 L190.1 525.1 L191.0 525.0 L191.9 525.3 L192.8 525.5 L193.7 525.4 L194.6 525.5 L195.5 525.6 L196.4 526.2 L197.3 526.3 L198.3 526.2 L199.2 526.4 L200.1 526.6 L201.0 526.7 L201.9 527.0 L202.8 526.9 L203.7 527.1 L204.6 527.4 L205.5 527.7 L206.5 527.8 L207.4 528.6 L208.3 528.4 L209.2 528.3 L210.1 528.9 L211.0 528.7 L211.9 528.9 L212.8 529.4 L213.7 529.3 L214.7 529.6 L215.6 529.6 L216.5 529.8 L217.4 530.1 L218.3 530.5 L219.2 530.5 L220.1 530.7 L221.0 530.8 L221.9 531.1 L222.8 531.5 L223.8 531.6 L224.3 567.5 L225.2 567.6 L226.2 567.1 L227.1 567.0 L228.0 566.9 L228.9 566.5 L229.9 566.4 L230.8 566.0 L231.7 565.7 L232.6 565.7 L233.6 564.9 L234.5 565.3 L235.4 564.8 L236.3 564.8 L237.3 564.4 L238.2 564.9 L239.1 564.4 L240.0 563.9 L241.0 563.7 L241.9 563.1 L242.8 563.3 L243.7 562.9 L244.6 562.8 L245.6 562.6 L246.5 562.5 L247.4 562.4 L248.3 562.0 L249.3 562.2 L250.2 561.5 L251.1 561.8 L252.0 561.3 L253.0 560.7 L253.9 561.0 L254.8 560.7 L255.7 560.3 L256.7 560.3 L257.6 560.3 L258.5 559.9 L259.4 559.6 L260.4 559.3 L261.3 559.3 L261.8 525.7 L262.8 525.9 L263.7 525.3 L264.6 525.3 L265.6 525.7 L266.5 525.7 L267.4 525.9 L268.4 525.5 L269.3 526.0 L270.2 525.7 L271.2 526.0 L272.1 526.1 L273.0 525.9 L274.0 525.8 L274.9 526.2 L275.8 526.4 L276.8 526.1 L277.7 526.4 L278.6 526.4 L279.6 526.2 L280.5 526.4 L281.5 526.9 L282.4 526.4 L283.3 527.0 L284.3 527.0 L285.2 527.4 L286.1 527.4 L287.1 527.9 L288.0 527.3 L288.9 527.5 L289.9 528.2 L290.8 528.5 L291.7 528.7 L292.7 528.2 L293.6 528.7 L294.5 528.8 L295.5 529.1 L296.4 529.2 L297.3 529.6 L298.3 529.6 L299.2 529.8 L299.7 563.8 L300.6 564.1 L301.5 563.7 L302.4 563.5 L303.3 563.3 L304.2 563.4 L305.1 563.4 L306.0 563.1 L306.8 563.1 L307.7 562.6 L308.6 562.6 L309.5 562.7 L310.4 562.7 L311.3 562.7 L312.2 562.6 L313.1 562.4 L313.9 562.1 L314.8 562.0 L315.7 561.9 L316.6 561.4 L317.5 562.0 L318.4 561.7 L319.3 561.0 L320.2 561.9 L321.0 561.5 L321.9 561.2 L322.8 561.1 L323.7 561.0 L324.6 561.0 L325.5 560.8 L326.4 560.8 L327.3 560.5 L328.1 561.0 L329.0 560.7 L329.9 560.4 L330.8 560.5 L331.7 560.4 L332.6 559.9 L333.5 560.1 L334.4 559.7 L335.2 559.7 L335.8 527.5 L336.7 527.4 L337.6 527.6 L338.5 527.6 L339.4 527.9 L340.4 528.3 L341.3 528.0 L342.2 528.0 L343.1 528.3 L344.0 528.3 L344.9 528.2 L345.8 528.6 L346.7 528.4 L347.6 528.2 L348.5 528.8 L349.5 528.7 L350.4 528.8 L351.3 528.5 L352.2 528.9 L353.1 528.8 L354.0 529.2 L354.9 529.1 L355.8 529.2 L356.7 529.6 L357.7 529.0 L358.6 529.1 L359.5 529.8 L360.4 529.3 L361.3 529.5 L362.2 529.4 L363.1 529.5 L364.0 530.0 L364.9 529.7 L365.8 529.4 L366.8 529.9 L367.7 530.0 L368.6 530.2 L369.5 530.2 L370.4 529.8 L371.3 529.6 L372.2 530.0 L372.8 563.4 L373.7 563.2 L374.6 563.2 L375.5 562.6 L376.4 563.2 L377.3 563.1 L378.2 562.8 L379.2 562.7 L380.1 563.0 L381.0 562.9 L381.9 562.5 L382.8 562.5 L383.7 562.7 L384.6 562.4 L385.5 562.4 L386.4 562.1 L387.3 562.1 L388.3 562.1 L389.2 562.0 L390.1 561.6 L391.0 561.5 L391.9 561.8 L392.8 561.4 L393.7 561.7 L394.6 561.5 L395.5 561.2 L396.5 561.0 L397.4 561.3 L398.3 561.2 L399.2 561.0 L400.1 561.3 L401.0 560.9 L401.9 561.0 L402.8 560.7 L403.7 560.9 L404.6 561.1 L405.6 560.5 L406.5 560.4 L407.4 560.5 L408.3 560.1 L409.2 560.2" stroke="#FDA75F" stroke-width="1.9" fill="none" stroke-linejoin="round"/>
<path d="M76.4 568.4 L77.3 567.8 L78.3 566.9 L79.2 566.4 L80.1 565.7 L81.0 565.2 L82.0 564.3 L82.9 563.3 L83.8 562.8 L84.8 562.0 L85.7 561.5 L86.6 560.8 L87.5 560.2 L88.5 560.1 L89.4 558.7 L90.3 558.2 L91.3 557.5 L92.2 557.5 L93.1 556.9 L94.1 556.0 L95.0 555.3 L95.9 554.4 L96.8 553.9 L97.8 553.1 L98.7 552.8 L99.6 552.0 L100.6 551.3 L101.5 551.0 L102.4 549.8 L103.3 549.5 L104.3 548.8 L105.2 548.7 L106.1 548.1 L107.1 547.4 L108.0 546.8 L108.9 546.0 L109.8 545.6 L110.8 545.2 L111.7 544.8 L112.6 544.1 L113.6 543.4 L113.7 540.2 L114.2 402.1 L115.1 404.1 L116.0 406.6 L117.0 407.8 L117.9 409.0 L118.8 410.7 L119.7 411.3 L120.6 411.9 L121.5 413.7 L122.5 414.1 L123.4 414.9 L124.3 415.9 L125.2 416.4 L126.1 417.3 L127.1 418.5 L128.0 418.7 L128.9 419.5 L129.8 420.3 L130.7 420.9 L131.6 422.0 L132.6 422.8 L133.5 424.0 L134.4 424.2 L135.3 425.3 L136.2 426.0 L137.1 427.0 L138.1 427.7 L139.0 428.3 L139.9 428.6 L140.8 430.2 L141.7 430.8 L142.7 431.0 L143.6 431.4 L144.5 432.4 L145.4 433.8 L146.3 434.7 L147.2 434.6 L148.2 435.6 L149.1 436.4 L150.0 436.6 L150.9 437.5 L151.5 560.7 L152.3 559.1 L153.2 558.4 L154.1 557.5 L155.0 556.7 L155.9 555.7 L156.8 555.3 L157.6 554.7 L158.5 554.0 L159.4 554.0 L160.3 552.7 L161.2 552.2 L162.1 551.7 L162.9 551.8 L163.8 550.9 L164.7 549.9 L165.6 550.1 L166.5 549.1 L167.4 548.2 L168.2 548.3 L169.1 547.0 L170.0 546.7 L170.9 546.3 L171.8 545.7 L172.7 545.1 L173.5 544.7 L174.4 543.9 L175.3 543.8 L176.2 543.2 L177.1 542.3 L178.0 542.1 L178.8 541.8 L179.7 540.8 L180.6 540.1 L181.5 540.1 L182.4 539.9 L183.2 539.1 L184.1 538.6 L185.0 538.1 L185.9 537.1 L186.8 537.0 L187.4 413.4 L188.3 415.9 L189.2 417.0 L190.2 419.0 L191.1 420.0 L192.0 420.6 L192.9 421.3 L193.8 422.2 L194.7 423.0 L195.6 423.8 L196.5 424.5 L197.4 425.0 L198.3 425.9 L199.2 426.4 L200.1 427.0 L201.0 427.8 L202.0 428.2 L202.9 428.9 L203.8 429.1 L204.7 430.2 L205.6 431.0 L206.5 431.6 L207.4 432.1 L208.3 432.4 L209.2 433.4 L210.1 433.8 L211.0 434.0 L211.9 435.8 L212.9 436.0 L213.8 436.2 L214.7 436.7 L215.6 437.4 L216.5 438.1 L217.4 438.4 L218.3 439.1 L219.2 439.9 L220.1 439.6 L221.0 440.8 L221.9 441.6 L222.8 442.0 L223.8 442.5 L224.3 552.0 L225.2 550.8 L226.2 549.6 L227.1 549.5 L228.0 548.1 L228.9 547.0 L229.9 546.9 L230.8 546.0 L231.7 545.2 L232.6 544.6 L233.6 543.9 L234.5 544.2 L235.4 543.3 L236.3 542.8 L237.3 542.0 L238.2 541.3 L239.1 541.8 L240.0 540.3 L241.0 540.4 L241.9 539.3 L242.8 539.4 L243.7 538.5 L244.6 537.7 L245.6 537.5 L246.5 536.9 L247.4 536.3 L248.3 536.0 L249.3 535.5 L250.2 534.6 L251.1 534.2 L252.0 534.1 L253.0 532.8 L253.9 533.4 L254.8 532.3 L255.7 532.2 L256.7 531.6 L257.6 531.0 L258.5 530.6 L259.4 530.1 L260.4 530.2 L261.3 529.3 L261.9 417.1 L262.9 419.9 L263.8 421.1 L264.7 422.9 L265.7 424.1 L266.6 425.2 L267.5 425.3 L268.5 426.3 L269.4 426.8 L270.3 428.2 L271.2 428.6 L272.2 429.6 L273.1 429.7 L274.0 430.1 L275.0 431.5 L275.9 431.4 L276.8 432.2 L277.8 433.2 L278.7 434.3 L279.6 434.0 L280.6 435.0 L281.5 435.7 L282.4 436.1 L283.4 436.7 L284.3 437.0 L285.2 438.3 L286.2 438.3 L287.1 438.8 L288.0 439.4 L288.9 440.4 L289.9 441.1 L290.8 441.2 L291.7 442.1 L292.7 442.6 L293.6 442.9 L294.5 443.9 L295.5 445.0 L296.4 445.0 L297.3 446.0 L298.3 445.8 L299.2 446.6 L299.7 546.1 L300.6 544.6 L301.5 543.8 L302.4 542.7 L303.3 541.7 L304.2 541.3 L305.1 540.4 L306.0 540.2 L306.8 539.4 L307.7 538.8 L308.6 538.2 L309.5 538.4 L310.4 537.5 L311.3 537.8 L312.2 537.1 L313.1 536.9 L313.9 535.6 L314.8 535.8 L315.7 535.0 L316.6 534.6 L317.5 534.1 L318.4 533.8 L319.3 533.1 L320.2 532.3 L321.0 532.3 L321.9 531.8 L322.8 531.2 L323.7 531.1 L324.6 531.0 L325.5 530.3 L326.4 529.5 L327.3 529.8 L328.1 529.1 L329.0 528.2 L329.9 527.9 L330.8 527.7 L331.7 527.1 L332.6 526.8 L333.5 526.8 L334.4 526.5 L335.2 525.7 L335.9 423.4 L336.8 425.9 L337.7 427.1 L338.6 428.8 L339.5 429.9 L340.4 430.7 L341.3 431.7 L342.2 432.0 L343.2 432.9 L344.1 433.1 L345.0 434.4 L345.9 434.2 L346.8 435.0 L347.7 435.9 L348.6 435.7 L349.5 436.5 L350.4 437.5 L351.3 437.7 L352.2 437.8 L353.1 438.6 L354.1 438.7 L355.0 439.2 L355.9 439.7 L356.8 440.3 L357.7 440.6 L358.6 441.2 L359.5 441.8 L360.4 442.9 L361.3 442.6 L362.2 443.0 L363.1 443.9 L364.0 444.4 L365.0 444.2 L365.9 445.7 L366.8 445.6 L367.7 445.5 L368.6 446.9 L369.5 446.9 L370.4 447.0 L371.3 448.0 L372.2 448.4 L372.8 541.6 L373.7 539.4 L374.6 537.9 L375.5 537.3 L376.4 536.2 L377.3 535.4 L378.2 534.6 L379.2 534.3 L380.1 533.9 L381.0 533.6 L381.9 533.0 L382.8 532.2 L383.7 532.0 L384.6 531.9 L385.5 531.4 L386.4 530.1 L387.3 530.1 L388.3 529.8 L389.2 530.3 L390.1 529.1 L391.0 528.7 L391.9 528.0 L392.8 528.0 L393.7 527.7 L394.6 527.2 L395.5 527.5 L396.5 526.3 L397.4 526.1 L398.3 526.0 L399.2 525.1 L400.1 524.6 L401.0 525.1 L401.9 524.6 L402.8 523.9 L403.7 523.6 L404.6 523.4 L405.6 523.2 L406.5 522.0 L407.4 522.0 L408.3 522.3 L409.2 521.6" stroke="#5468EF" stroke-width="2.3" fill="none" stroke-linejoin="round"/>
<rect x="76.40" y="343.00" width="332.80" height="249.90" fill="none" stroke="#0d0d0d" stroke-width="2.05"/>
<path d="M76.40 592.90v4.9M187.33 592.90v4.9M298.27 592.90v4.9M409.20 592.90v4.9" stroke="#0d0d0d" stroke-width="1.75" fill="none"/>
<path d="M131.87 592.90v2.7M242.80 592.90v2.7M353.73 592.90v2.7" stroke="#0d0d0d" stroke-width="1.5" fill="none"/>
<path d="M76.40 570.20h-4.9M76.40 524.76h-4.9M76.40 479.33h-4.9M76.40 433.89h-4.9M76.40 388.46h-4.9M76.40 343.02h-4.9" stroke="#0d0d0d" stroke-width="1.75" fill="none"/>
<path d="M76.40 592.92h-2.7M76.40 547.48h-2.7M76.40 502.05h-2.7M76.40 456.61h-2.7M76.40 411.17h-2.7M76.40 365.74h-2.7" stroke="#0d0d0d" stroke-width="1.5" fill="none"/>
<text x="76.40" y="613.50" font-size="16" font-weight="bold" text-anchor="middle" fill="#000">0</text>
<text x="187.33" y="613.50" font-size="16" font-weight="bold" text-anchor="middle" fill="#000">60</text>
<text x="298.27" y="613.50" font-size="16" font-weight="bold" text-anchor="middle" fill="#000">120</text>
<text x="409.20" y="613.50" font-size="16" font-weight="bold" text-anchor="middle" fill="#000">180</text>
<text x="68.00" y="574.80" font-size="16" font-weight="bold" text-anchor="end" fill="#000">0.00</text>
<text x="68.00" y="529.36" font-size="16" font-weight="bold" text-anchor="end" fill="#000">0.01</text>
<text x="68.00" y="483.93" font-size="16" font-weight="bold" text-anchor="end" fill="#000">0.02</text>
<text x="68.00" y="438.49" font-size="16" font-weight="bold" text-anchor="end" fill="#000">0.03</text>
<text x="68.00" y="393.06" font-size="16" font-weight="bold" text-anchor="end" fill="#000">0.04</text>
<text x="68.00" y="347.62" font-size="16" font-weight="bold" text-anchor="end" fill="#000">0.05</text>
<text x="251.30" y="638.30" font-size="20.6" font-weight="bold" text-anchor="middle" fill="#000">Times (s)</text>
<text transform="translate(33.20 462.60) rotate(-90)" font-size="21" font-weight="bold" text-anchor="middle">Photocurrent <tspan font-weight="normal">(μ</tspan>A<tspan font-weight="normal">)</tspan></text>
<text x="11.00" y="343.30" font-size="36.5" font-weight="bold" text-anchor="start" fill="#000">c</text>
<path d="M261.5 366h30" stroke="#FDA75F" stroke-width="1.4"/>
<path d="M261.5 386h30" stroke="#5468EF" stroke-width="1.8"/>
<text x="294.00" y="370.60" font-size="16.15" text-anchor="start" fill="#000">KCNNS</text>
<text x="294.00" y="390.80" font-size="16.15" text-anchor="start" fill="#000">CPDs/KCNNS-2</text>
<text x="79.00" y="389.30" font-size="16.0" text-anchor="start" fill="#000">Dark</text>
<text x="114.50" y="389.30" font-size="16" text-anchor="start" fill="#F47A7A">Light</text>
<g>
<circle class="o" cx="538.6" cy="580.6" r="5.25"/><circle class="h" cx="537.3" cy="579.2" r="2.62"/><circle class="o" cx="538.6" cy="579.9" r="5.25"/><circle class="h" cx="537.4" cy="578.5" r="2.62"/><circle class="o" cx="538.7" cy="579.2" r="5.25"/><circle class="h" cx="537.4" cy="577.7" r="2.62"/><circle class="o" cx="538.8" cy="578.2" r="5.25"/><circle class="h" cx="537.5" cy="576.8" r="2.62"/><circle class="o" cx="538.9" cy="577.2" r="5.25"/><circle class="h" cx="537.6" cy="575.8" r="2.62"/><circle class="o" cx="538.9" cy="576.0" r="5.25"/><circle class="h" cx="537.7" cy="574.6" r="2.62"/><circle class="o" cx="539.0" cy="574.7" r="5.25"/><circle class="h" cx="537.8" cy="573.3" r="2.62"/><circle class="o" cx="539.2" cy="573.3" r="5.25"/><circle class="h" cx="537.9" cy="571.9" r="2.62"/><circle class="o" cx="539.3" cy="571.7" r="5.25"/><circle class="h" cx="538.0" cy="570.3" r="2.62"/><circle class="o" cx="539.4" cy="570.0" r="5.25"/><circle class="h" cx="538.1" cy="568.6" r="2.62"/><circle class="o" cx="539.7" cy="568.3" r="5.25"/><circle class="h" cx="538.5" cy="566.9" r="2.62"/><circle class="o" cx="540.1" cy="566.3" r="5.25"/><circle class="h" cx="538.8" cy="564.9" r="2.62"/><circle class="o" cx="540.5" cy="564.0" r="5.25"/><circle class="h" cx="539.3" cy="562.6" r="2.62"/><circle class="o" cx="541.0" cy="561.5" r="5.25"/><circle class="h" cx="539.7" cy="560.1" r="2.62"/><circle class="o" cx="542.7" cy="554.3" r="5.25"/><circle class="h" cx="541.4" cy="552.9" r="2.62"/><circle class="o" cx="544.0" cy="548.8" r="5.25"/><circle class="h" cx="542.7" cy="547.4" r="2.62"/><circle class="o" cx="545.2" cy="542.6" r="5.25"/><circle class="h" cx="543.9" cy="541.2" r="2.62"/><circle class="o" cx="546.9" cy="534.6" r="5.25"/><circle class="h" cx="545.6" cy="533.2" r="2.62"/><circle class="o" cx="549.2" cy="526.4" r="5.25"/><circle class="h" cx="547.9" cy="525.0" r="2.62"/><circle class="o" cx="551.6" cy="517.1" r="5.25"/><circle class="h" cx="550.3" cy="515.7" r="2.62"/><circle class="o" cx="554.8" cy="506.6" r="5.25"/><circle class="h" cx="553.5" cy="505.2" r="2.62"/><circle class="o" cx="558.3" cy="494.9" r="5.25"/><circle class="h" cx="557.0" cy="493.5" r="2.62"/><circle class="o" cx="563.2" cy="483.2" r="5.25"/><circle class="h" cx="561.9" cy="481.8" r="2.62"/><circle class="o" cx="568.9" cy="469.9" r="5.25"/><circle class="h" cx="567.6" cy="468.5" r="2.62"/><circle class="o" cx="576.4" cy="456.9" r="5.25"/><circle class="h" cx="575.1" cy="455.5" r="2.62"/><circle class="o" cx="585.0" cy="445.6" r="5.25"/><circle class="h" cx="583.7" cy="444.2" r="2.62"/><circle class="o" cx="594.5" cy="437.3" r="5.25"/><circle class="h" cx="593.2" cy="435.9" r="2.62"/><circle class="o" cx="605.3" cy="431.0" r="5.25"/><circle class="h" cx="604.0" cy="429.6" r="2.62"/><circle class="o" cx="616.6" cy="429.0" r="5.25"/><circle class="h" cx="615.3" cy="427.6" r="2.62"/><circle class="o" cx="627.9" cy="429.7" r="5.25"/><circle class="h" cx="626.6" cy="428.3" r="2.62"/><circle class="o" cx="639.0" cy="434.8" r="5.25"/><circle class="h" cx="637.7" cy="433.4" r="2.62"/><circle class="o" cx="648.5" cy="442.3" r="5.25"/><circle class="h" cx="647.2" cy="440.9" r="2.62"/><circle class="o" cx="657.3" cy="452.3" r="5.25"/><circle class="h" cx="656.0" cy="450.9" r="2.62"/><circle class="o" cx="664.8" cy="464.4" r="5.25"/><circle class="h" cx="663.5" cy="463.0" r="2.62"/><circle class="o" cx="672.3" cy="475.8" r="5.25"/><circle class="h" cx="671.0" cy="474.4" r="2.62"/><circle class="o" cx="676.8" cy="486.8" r="5.25"/><circle class="h" cx="675.5" cy="485.4" r="2.62"/><circle class="o" cx="680.7" cy="497.6" r="5.25"/><circle class="h" cx="679.4" cy="496.2" r="2.62"/><circle class="o" cx="684.6" cy="508.8" r="5.25"/><circle class="h" cx="683.3" cy="507.4" r="2.62"/><circle class="o" cx="687.6" cy="519.4" r="5.25"/><circle class="h" cx="686.3" cy="518.0" r="2.62"/><circle class="o" cx="690.0" cy="526.9" r="5.25"/><circle class="h" cx="688.7" cy="525.5" r="2.62"/><circle class="o" cx="691.7" cy="532.1" r="5.25"/><circle class="h" cx="690.4" cy="530.7" r="2.62"/><circle class="o" cx="693.2" cy="535.2" r="5.25"/><circle class="h" cx="691.9" cy="533.8" r="2.62"/><circle class="o" cx="695.5" cy="539.0" r="5.25"/><circle class="h" cx="694.2" cy="537.6" r="2.62"/><circle class="o" cx="696.9" cy="540.4" r="5.25"/><circle class="h" cx="695.7" cy="539.0" r="2.62"/><circle class="o" cx="698.2" cy="541.7" r="5.25"/><circle class="h" cx="696.9" cy="540.3" r="2.62"/><circle class="o" cx="700.0" cy="542.8" r="5.25"/><circle class="h" cx="698.7" cy="541.4" r="2.62"/><circle class="o" cx="701.6" cy="543.8" r="5.25"/><circle class="h" cx="700.3" cy="542.4" r="2.62"/><circle class="o" cx="703.1" cy="543.3" r="5.25"/><circle class="h" cx="701.8" cy="541.9" r="2.62"/><circle class="o" cx="704.6" cy="542.8" r="5.25"/><circle class="h" cx="703.4" cy="541.4" r="2.62"/><circle class="o" cx="706.3" cy="542.2" r="5.25"/><circle class="h" cx="705.0" cy="540.8" r="2.62"/><circle class="o" cx="707.8" cy="541.0" r="5.25"/><circle class="h" cx="706.6" cy="539.6" r="2.62"/><circle class="o" cx="709.6" cy="539.6" r="5.25"/><circle class="h" cx="708.3" cy="538.2" r="2.62"/><circle class="o" cx="712.5" cy="536.5" r="5.25"/><circle class="h" cx="711.2" cy="535.1" r="2.62"/><circle class="o" cx="714.5" cy="533.3" r="5.25"/><circle class="h" cx="713.2" cy="531.9" r="2.62"/><circle class="o" cx="716.4" cy="530.0" r="5.25"/><circle class="h" cx="715.1" cy="528.6" r="2.62"/><circle class="o" cx="718.4" cy="527.2" r="5.25"/><circle class="h" cx="717.1" cy="525.8" r="2.62"/><circle class="o" cx="721.0" cy="523.6" r="5.25"/><circle class="h" cx="719.7" cy="522.2" r="2.62"/><circle class="o" cx="723.4" cy="519.8" r="5.25"/><circle class="h" cx="722.1" cy="518.4" r="2.62"/><circle class="o" cx="726.6" cy="514.0" r="5.25"/><circle class="h" cx="725.3" cy="512.6" r="2.62"/><circle class="o" cx="730.9" cy="508.2" r="5.25"/><circle class="h" cx="729.6" cy="506.8" r="2.62"/><circle class="o" cx="735.4" cy="502.0" r="5.25"/><circle class="h" cx="734.1" cy="500.6" r="2.62"/><circle class="o" cx="740.2" cy="495.2" r="5.25"/><circle class="h" cx="738.9" cy="493.8" r="2.62"/><circle class="o" cx="745.0" cy="488.1" r="5.25"/><circle class="h" cx="743.7" cy="486.7" r="2.62"/><circle class="o" cx="750.5" cy="481.1" r="5.25"/><circle class="h" cx="749.2" cy="479.7" r="2.62"/><circle class="o" cx="755.0" cy="472.8" r="5.25"/><circle class="h" cx="753.7" cy="471.4" r="2.62"/><circle class="o" cx="759.8" cy="461.1" r="5.25"/><circle class="h" cx="758.5" cy="459.7" r="2.62"/><circle class="o" cx="765.3" cy="449.1" r="5.25"/><circle class="h" cx="764.0" cy="447.7" r="2.62"/><circle class="o" cx="771.1" cy="435.5" r="5.25"/><circle class="h" cx="769.8" cy="434.1" r="2.62"/><circle class="o" cx="777.9" cy="420.9" r="5.25"/><circle class="h" cx="776.6" cy="419.5" r="2.62"/><circle class="o" cx="784.9" cy="405.4" r="5.25"/><circle class="h" cx="783.6" cy="404.0" r="2.62"/><circle class="o" cx="792.4" cy="388.8" r="5.25"/><circle class="h" cx="791.1" cy="387.4" r="2.62"/>
</g>
<g>
<circle class="b" cx="542.8" cy="580.3" r="5.25"/><circle class="h" cx="541.5" cy="578.9" r="2.62"/><circle class="b" cx="542.9" cy="579.6" r="5.25"/><circle class="h" cx="541.7" cy="578.2" r="2.62"/><circle class="b" cx="543.1" cy="578.6" r="5.25"/><circle class="h" cx="541.9" cy="577.2" r="2.62"/><circle class="b" cx="543.4" cy="577.2" r="5.25"/><circle class="h" cx="542.2" cy="575.8" r="2.62"/><circle class="b" cx="543.8" cy="575.5" r="5.25"/><circle class="h" cx="542.5" cy="574.1" r="2.62"/><circle class="b" cx="544.2" cy="573.5" r="5.25"/><circle class="h" cx="542.9" cy="572.1" r="2.62"/><circle class="b" cx="544.6" cy="571.1" r="5.25"/><circle class="h" cx="543.4" cy="569.7" r="2.62"/><circle class="b" cx="545.2" cy="568.3" r="5.25"/><circle class="h" cx="543.9" cy="566.9" r="2.62"/><circle class="b" cx="545.8" cy="565.2" r="5.25"/><circle class="h" cx="544.6" cy="563.8" r="2.62"/><circle class="b" cx="546.5" cy="561.8" r="5.25"/><circle class="h" cx="545.2" cy="560.4" r="2.62"/><circle class="b" cx="547.7" cy="558.2" r="5.25"/><circle class="h" cx="546.4" cy="556.8" r="2.62"/><circle class="b" cx="549.0" cy="553.8" r="5.25"/><circle class="h" cx="547.7" cy="552.4" r="2.62"/><circle class="b" cx="550.7" cy="548.8" r="5.25"/><circle class="h" cx="549.4" cy="547.4" r="2.62"/><circle class="b" cx="552.7" cy="543.1" r="5.25"/><circle class="h" cx="551.4" cy="541.7" r="2.62"/><circle class="b" cx="555.2" cy="537.5" r="5.25"/><circle class="h" cx="553.9" cy="536.1" r="2.62"/><circle class="b" cx="558.1" cy="531.7" r="5.25"/><circle class="h" cx="556.8" cy="530.3" r="2.62"/><circle class="b" cx="561.4" cy="525.8" r="5.25"/><circle class="h" cx="560.1" cy="524.4" r="2.62"/><circle class="b" cx="565.8" cy="520.8" r="5.25"/><circle class="h" cx="564.5" cy="519.4" r="2.62"/><circle class="b" cx="570.3" cy="516.1" r="5.25"/><circle class="h" cx="569.0" cy="514.7" r="2.62"/><circle class="b" cx="575.8" cy="513.7" r="5.25"/><circle class="h" cx="574.5" cy="512.3" r="2.62"/><circle class="b" cx="581.2" cy="513.5" r="5.25"/><circle class="h" cx="579.9" cy="512.1" r="2.62"/><circle class="b" cx="586.6" cy="515.9" r="5.25"/><circle class="h" cx="585.3" cy="514.5" r="2.62"/><circle class="b" cx="591.4" cy="519.1" r="5.25"/><circle class="h" cx="590.1" cy="517.7" r="2.62"/><circle class="b" cx="595.7" cy="523.4" r="5.25"/><circle class="h" cx="594.4" cy="522.0" r="2.62"/><circle class="b" cx="599.6" cy="528.2" r="5.25"/><circle class="h" cx="598.3" cy="526.8" r="2.62"/><circle class="b" cx="602.9" cy="533.7" r="5.25"/><circle class="h" cx="601.6" cy="532.3" r="2.62"/><circle class="b" cx="605.4" cy="539.1" r="5.25"/><circle class="h" cx="604.1" cy="537.7" r="2.62"/><circle class="b" cx="607.6" cy="544.3" r="5.25"/><circle class="h" cx="606.3" cy="542.9" r="2.62"/><circle class="b" cx="609.4" cy="548.9" r="5.25"/><circle class="h" cx="608.1" cy="547.5" r="2.62"/><circle class="b" cx="611.0" cy="552.5" r="5.25"/><circle class="h" cx="609.7" cy="551.1" r="2.62"/><circle class="b" cx="612.1" cy="555.7" r="5.25"/><circle class="h" cx="610.8" cy="554.3" r="2.62"/><circle class="b" cx="613.1" cy="558.9" r="5.25"/><circle class="h" cx="611.8" cy="557.5" r="2.62"/><circle class="b" cx="613.6" cy="561.1" r="5.25"/><circle class="h" cx="612.3" cy="559.6" r="2.62"/><circle class="b" cx="614.0" cy="562.9" r="5.25"/><circle class="h" cx="612.8" cy="561.5" r="2.62"/><circle class="b" cx="614.4" cy="564.5" r="5.25"/><circle class="h" cx="613.1" cy="563.1" r="2.62"/><circle class="b" cx="615.2" cy="566.0" r="5.25"/><circle class="h" cx="613.9" cy="564.6" r="2.62"/><circle class="b" cx="615.9" cy="567.4" r="5.25"/><circle class="h" cx="614.6" cy="566.0" r="2.62"/><circle class="b" cx="616.5" cy="568.6" r="5.25"/><circle class="h" cx="615.2" cy="567.2" r="2.62"/><circle class="b" cx="617.2" cy="567.7" r="5.25"/><circle class="h" cx="615.9" cy="566.2" r="2.62"/><circle class="b" cx="617.9" cy="566.7" r="5.25"/><circle class="h" cx="616.7" cy="565.2" r="2.62"/><circle class="b" cx="618.7" cy="565.6" r="5.25"/><circle class="h" cx="617.4" cy="564.2" r="2.62"/><circle class="b" cx="619.4" cy="564.2" r="5.25"/><circle class="h" cx="618.1" cy="562.8" r="2.62"/><circle class="b" cx="620.2" cy="562.7" r="5.25"/><circle class="h" cx="618.9" cy="561.3" r="2.62"/><circle class="b" cx="621.0" cy="561.0" r="5.25"/><circle class="h" cx="619.7" cy="559.6" r="2.62"/><circle class="b" cx="622.0" cy="559.2" r="5.25"/><circle class="h" cx="620.8" cy="557.8" r="2.62"/><circle class="b" cx="623.2" cy="557.2" r="5.25"/><circle class="h" cx="621.9" cy="555.8" r="2.62"/><circle class="b" cx="624.5" cy="555.0" r="5.25"/><circle class="h" cx="623.2" cy="553.6" r="2.62"/><circle class="b" cx="625.9" cy="552.0" r="5.25"/><circle class="h" cx="624.6" cy="550.6" r="2.62"/><circle class="b" cx="627.5" cy="548.5" r="5.25"/><circle class="h" cx="626.2" cy="547.1" r="2.62"/><circle class="b" cx="628.8" cy="545.8" r="5.25"/><circle class="h" cx="627.6" cy="544.4" r="2.62"/><circle class="b" cx="630.4" cy="542.7" r="5.25"/><circle class="h" cx="629.1" cy="541.3" r="2.62"/><circle class="b" cx="632.8" cy="538.7" r="5.25"/><circle class="h" cx="631.5" cy="537.3" r="2.62"/><circle class="b" cx="636.0" cy="533.9" r="5.25"/><circle class="h" cx="634.7" cy="532.5" r="2.62"/><circle class="b" cx="639.2" cy="529.1" r="5.25"/><circle class="h" cx="637.9" cy="527.7" r="2.62"/><circle class="b" cx="642.8" cy="523.5" r="5.25"/><circle class="h" cx="641.5" cy="522.1" r="2.62"/><circle class="b" cx="646.8" cy="518.0" r="5.25"/><circle class="h" cx="645.5" cy="516.6" r="2.62"/><circle class="b" cx="650.7" cy="512.0" r="5.25"/><circle class="h" cx="649.4" cy="510.6" r="2.62"/><circle class="b" cx="654.3" cy="505.5" r="5.25"/><circle class="h" cx="653.0" cy="504.1" r="2.62"/><circle class="b" cx="657.9" cy="498.3" r="5.25"/><circle class="h" cx="656.6" cy="496.9" r="2.62"/><circle class="b" cx="661.5" cy="489.2" r="5.25"/><circle class="h" cx="660.2" cy="487.8" r="2.62"/><circle class="b" cx="665.5" cy="478.3" r="5.25"/><circle class="h" cx="664.2" cy="476.9" r="2.62"/><circle class="b" cx="670.4" cy="466.2" r="5.25"/><circle class="h" cx="669.1" cy="464.8" r="2.62"/><circle class="b" cx="675.6" cy="453.1" r="5.25"/><circle class="h" cx="674.3" cy="451.7" r="2.62"/><circle class="b" cx="681.4" cy="439.3" r="5.25"/><circle class="h" cx="680.1" cy="437.9" r="2.62"/><circle class="b" cx="687.4" cy="424.0" r="5.25"/><circle class="h" cx="686.1" cy="422.6" r="2.62"/><circle class="b" cx="694.2" cy="407.6" r="5.25"/><circle class="h" cx="692.9" cy="406.2" r="2.62"/>
</g>
<rect x="504.80" y="343.50" width="333.10" height="250.40" fill="none" stroke="#0d0d0d" stroke-width="2.05"/>
<path d="M504.80 593.90v4.9M560.32 593.90v4.9M615.83 593.90v4.9M671.35 593.90v4.9M726.87 593.90v4.9M782.38 593.90v4.9M837.90 593.90v4.9" stroke="#0d0d0d" stroke-width="1.75" fill="none"/>
<path d="M532.56 593.90v2.7M588.08 593.90v2.7M643.59 593.90v2.7M699.11 593.90v2.7M754.62 593.90v2.7M810.14 593.90v2.7" stroke="#0d0d0d" stroke-width="1.5" fill="none"/>
<path d="M504.80 588.20h-4.9M504.80 506.63h-4.9M504.80 425.07h-4.9M504.80 343.50h-4.9" stroke="#0d0d0d" stroke-width="1.75" fill="none"/>
<path d="M504.80 547.42h-2.7M504.80 465.85h-2.7M504.80 384.28h-2.7" stroke="#0d0d0d" stroke-width="1.5" fill="none"/>
<text x="504.80" y="614.60" font-size="16" font-weight="bold" text-anchor="middle" fill="#000">50</text>
<text x="560.32" y="614.60" font-size="16" font-weight="bold" text-anchor="middle" fill="#000">100</text>
<text x="615.83" y="614.60" font-size="16" font-weight="bold" text-anchor="middle" fill="#000">150</text>
<text x="671.35" y="614.60" font-size="16" font-weight="bold" text-anchor="middle" fill="#000">200</text>
<text x="726.87" y="614.60" font-size="16" font-weight="bold" text-anchor="middle" fill="#000">250</text>
<text x="782.38" y="614.60" font-size="16" font-weight="bold" text-anchor="middle" fill="#000">300</text>
<text x="837.90" y="614.60" font-size="16" font-weight="bold" text-anchor="middle" fill="#000">350</text>
<text x="495.90" y="593.00" font-size="16" font-weight="bold" text-anchor="end" fill="#000">0</text>
<text x="495.90" y="511.43" font-size="16" font-weight="bold" text-anchor="end" fill="#000">30</text>
<text x="495.90" y="429.87" font-size="16" font-weight="bold" text-anchor="end" fill="#000">60</text>
<text x="495.90" y="348.30" font-size="16" font-weight="bold" text-anchor="end" fill="#000">90</text>
<text x="673.90" y="641.50" font-size="21" font-weight="bold" text-anchor="middle" fill="#000">Z' (ohm)</text>
<text transform="translate(466.60 469.10) rotate(-90)" font-size="20.5" font-weight="bold" text-anchor="middle">-Z" (ohm)</text>
<text x="433.20" y="345.20" font-size="35.5" font-weight="bold" text-anchor="start" fill="#000">d</text>
<g>
<circle class="o" cx="534.9" cy="362.1" r="5.14"/><circle class="h" cx="533.7" cy="360.7" r="2.57"/>
</g>
<g>
<circle class="b" cx="534.9" cy="381.3" r="5.14"/><circle class="h" cx="533.7" cy="379.9" r="2.57"/>
</g>
<text x="547.60" y="366.20" font-size="15.15" text-anchor="start" fill="#000">KCNNS</text>
<text x="547.60" y="386.00" font-size="15.15" text-anchor="start" fill="#000">CPDs/KCNNS-2</text>
</g>
</svg>
</body></html>
